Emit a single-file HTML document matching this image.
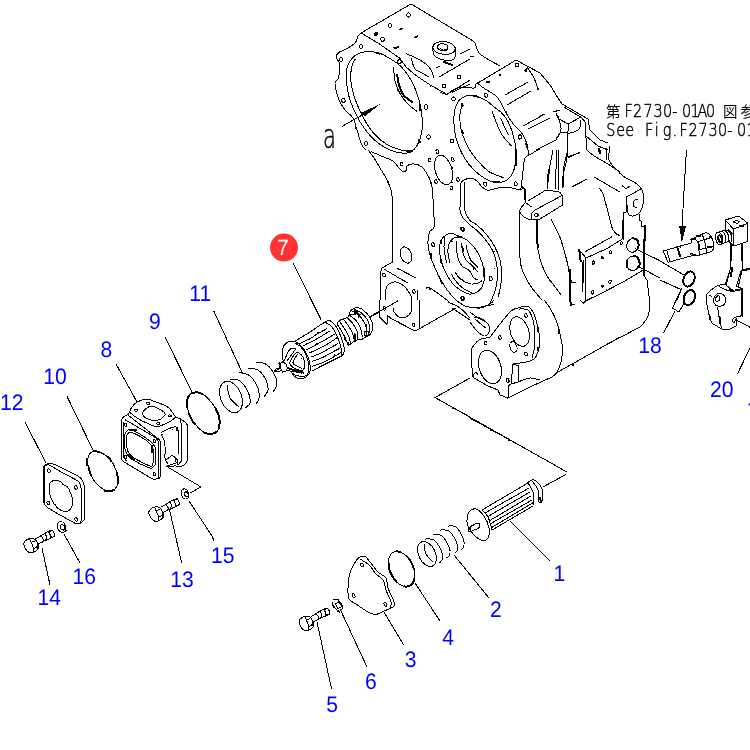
<!DOCTYPE html>
<html><head><meta charset="utf-8"><title>Parts diagram</title>
<style>
html,body{margin:0;padding:0;background:#fff;}
body{width:750px;height:750px;overflow:hidden;position:relative;font-family:"Liberation Sans",sans-serif;}
svg{position:absolute;left:0;top:0;display:block}
.n{font-family:"Liberation Sans",sans-serif;font-size:22px;fill:#0000ff;text-rendering:geometricPrecision;}
.ref{font-family:"Liberation Mono","Noto Sans CJK JP",monospace;font-size:14px;fill:#000;}
.pl{font-family:"DejaVu Sans Light","Liberation Sans",sans-serif;font-weight:200;font-size:18px;fill:#000;stroke:#000;stroke-width:0.5px}
.cj{font-family:"Liberation Sans","Noto Sans CJK JP",sans-serif;font-size:14.5px;fill:#000;font-weight:400}
.k{fill:none;stroke:#000;stroke-width:1;stroke-linejoin:round;stroke-linecap:round}
.k2{fill:none;stroke:#000;stroke-width:2;stroke-linejoin:round;stroke-linecap:round}
.w{fill:#fff;stroke:#000;stroke-width:1;stroke-linejoin:round}
</style></head><body>
<svg width="750" height="750" viewBox="0 0 750 750">
<rect width="750" height="750" fill="#fff"/>
<g id="art" shape-rendering="crispEdges">
<path class="k" d="M470 39 411 4 361 33 358 36"/>
<path class="k" d="M361 33 378 43 400 58.4 406 67 415.6 75.2 430.6 85.2 447 94.4 470 80"/>
<path class="k" d="M452 92.4 470 84"/>
<path class="k" d="M358 36C357.5 37.2 357 40.8 355 43C353 45.2 348.7 47.4 346 49C343.3 50.6 340.7 51.1 339 52.4C337.3 53.7 336 55.4 336 57C336 58.6 338.3 60.2 339 62C339.7 63.8 340.1 65.3 340 68C339.9 70.7 339.2 75.5 338.4 78C337.6 80.5 335.2 80.3 335 83C334.8 85.7 336 90.5 337 94C338 97.5 339.5 101.2 341 104C342.5 106.8 344 108.7 346 111C348 113.3 351.2 114.8 353 118C354.8 121.2 355.8 126.3 357 130C358.2 133.7 359 137.2 360 140C361 142.8 362 145.3 363 147C364 148.7 365.5 149.5 366 150"/>
<path class="k" d="M362.7 45.8C363.1 46.8 362.6 47.9 361.7 48.3C360.7 48.6 359.7 48.1 359.3 47C358.9 46 359.4 44.9 360.3 44.5C361.3 44.2 362.3 44.7 362.7 45.8Z"/>
<path class="k" d="M342.7 58.8C343.1 59.8 342.6 60.9 341.7 61.3C340.7 61.6 339.7 61.1 339.3 60C338.9 59 339.4 57.9 340.3 57.5C341.3 57.2 342.3 57.7 342.7 58.8Z"/>
<path class="k" d="M345.1 99.8C345.5 100.8 345 101.9 344.1 102.3C343.1 102.6 342.1 102.1 341.7 101C341.3 100 341.8 98.9 342.7 98.5C343.7 98.2 344.7 98.7 345.1 99.8Z"/>
<path class="k" d="M367.7 142.8C368.1 143.8 367.6 144.9 366.7 145.3C365.7 145.6 364.7 145.1 364.3 144C363.9 143 364.4 141.9 365.3 141.5C366.3 141.2 367.3 141.7 367.7 142.8Z"/>
<path class="k" d="M401.1 61C401.5 62 401 63.1 400.1 63.5C399.1 63.8 398.1 63.3 397.7 62.2C397.3 61.2 397.8 60.1 398.7 59.7C399.7 59.4 400.7 59.9 401.1 61Z"/>
<path class="k" d="M445.7 85.4C446.1 86.4 445.6 87.5 444.7 87.9C443.7 88.2 442.7 87.7 442.3 86.6C441.9 85.6 442.4 84.5 443.3 84.1C444.3 83.8 445.3 84.3 445.7 85.4Z"/>
<path class="k" d="M455.1 98.4C455.5 99.4 455 100.5 454.1 100.9C453.1 101.2 452.1 100.7 451.7 99.6C451.3 98.6 451.8 97.5 452.7 97.1C453.7 96.8 454.7 97.3 455.1 98.4Z"/>
<path class="k" d="M460.7 76.4C461.1 77.4 460.6 78.5 459.7 78.9C458.7 79.2 457.7 78.7 457.3 77.6C456.9 76.6 457.4 75.5 458.3 75.1C459.3 74.8 460.3 75.3 460.7 76.4Z"/>
<path class="k" d="M453.7 140.4C454.1 141.4 453.6 142.5 452.7 142.9C451.7 143.2 450.7 142.7 450.3 141.6C449.9 140.6 450.4 139.5 451.3 139.1C452.3 138.8 453.3 139.3 453.7 140.4Z"/>
<path class="k" d="M430.3 136.4C430.7 137.4 430.2 138.5 429.3 138.9C428.3 139.2 427.3 138.7 426.9 137.6C426.5 136.6 427 135.5 427.9 135.1C428.9 134.8 429.9 135.3 430.3 136.4Z"/>
<path class="k" d="M410.3 14.4C410.7 15.4 410.2 16.5 409.3 16.9C408.3 17.2 407.3 16.7 406.9 15.6C406.5 14.6 407 13.5 407.9 13.1C408.9 12.8 409.9 13.3 410.3 14.4Z"/>
<path class="k" d="M391.7 24.8C392.1 25.8 391.6 26.9 390.7 27.3C389.7 27.6 388.7 27.1 388.3 26C387.9 25 388.4 23.9 389.3 23.5C390.3 23.2 391.3 23.7 391.7 24.8Z"/>
<path class="k" d="M384.3 38.8C384.7 39.8 384.2 40.9 383.3 41.3C382.3 41.6 381.3 41.1 380.9 40C380.5 39 381 37.9 381.9 37.5C382.9 37.2 383.9 37.7 384.3 38.8Z"/>
<path class="k" d="M427.2 107C427.2 108.4 426.7 109.6 426 109.6C425.3 109.6 424.8 108.4 424.8 107C424.8 105.6 425.3 104.4 426 104.4C426.7 104.4 427.2 105.6 427.2 107Z"/>
<circle cx="376.0" cy="34.0" r="2.0"/>
<path class="k2" d="M400 29.4 402 28.6"/>
<path class="k2" d="M415 37.4 417.4 36.4"/>
<path class="k2" d="M394.4 48 398 47.2"/>
<path class="k" d="M455.2 49C454.8 52.5 449.6 54.9 443.4 54.4C437.3 53.8 432.5 50.5 432.8 47C433.2 43.5 438.4 41.1 444.6 41.6C450.7 42.2 455.5 45.5 455.2 49Z"/>
<path class="k" d="M448 47.7C447.8 49.5 445.4 50.8 442.5 50.6C439.6 50.3 437.5 48.6 437.6 46.7C437.8 44.9 440.2 43.6 443.1 43.8C446 44.1 448.1 45.8 448 47.7Z"/>
<path class="k" d="M433 49C433.1 49.9 432.6 52.8 433.6 54.4C434.6 56 436.6 57.6 439 58.6C441.4 59.6 445.4 60.4 448 60.4C450.6 60.4 453.1 60.3 454.4 58.4C455.7 56.5 455.4 50.6 455.6 49"/>
<path class="k" d="M440 48C440.4 48.3 441.4 49.7 442.4 50C443.4 50.3 445.4 49.7 446 49.6"/>
<path class="k" d="M406 53.6C407.7 54.3 412.7 56.3 416 58C419.3 59.7 423.5 62 426 64C428.5 66 429.7 67.7 431 70C432.3 72.3 433.5 76.7 434 78"/>
<path class="k" d="M411 58C411.7 59.8 413.2 66.5 415 69C416.8 71.5 419.7 71.7 422 73C424.3 74.3 427.8 76.3 429 77"/>
<path class="k" d="M439 77 470 59"/>
<path class="k" d="M460 54 470 49"/>
<path class="k" d="M436 68 440 66"/>
<path class="k2" d="M444 62 452 65"/>
<circle cx="430.6" cy="85.6" r="1.0"/>
<circle cx="397.6" cy="90.4" r="0.8"/>
<path class="k" d="M342 126.4 363 114.6"/>
<path d="M380.0 104.2 361.2 112.6 364.4 116.6Z" fill="#000"/>
<path class="k" d="M470 39C470.8 39.7 473.3 40.5 475 43C476.7 45.5 475.8 50.2 480 54C484.2 57.8 496.7 64 500 66"/>
<path class="k" d="M470 57 474 56"/>
<path class="k" d="M478 83 516 60 527 66 540 73 550 85 558 98 562 104 588 119 590 130 600 140 608 143"/>
<path class="k" d="M564 107 582 118 585 122 586 136 598 146 608 150"/>
<path class="k" d="M505 95 528 82"/>
<path class="k" d="M507 105 531 91"/>
<path class="k" d="M523 126 545 114"/>
<path class="k" d="M528 129 550 118"/>
<path class="k" d="M519 65C519 66 518.1 66.8 517 66.8C515.9 66.8 515 66 515 65C515 64 515.9 63.2 517 63.2C518.1 63.2 519 64 519 65Z"/>
<circle cx="500.0" cy="75.0" r="1.2"/>
<path class="k" d="M489.2 82C489.2 82.6 488.7 83 488 83C487.3 83 486.8 82.6 486.8 82C486.8 81.4 487.3 81 488 81C488.7 81 489.2 81.4 489.2 82Z"/>
<path class="k" d="M521.3 137.5C520.9 138.7 519.9 139.5 519.2 139.3C518.5 139 518.2 137.8 518.7 136.5C519.1 135.3 520.1 134.5 520.8 134.7C521.5 135 521.8 136.2 521.3 137.5Z"/>
<path d="M523.0 71.0 527.0 67.0 526.6 72.0Z" fill="#000"/>
<path class="k" d="M527 67C528.2 68.8 532.2 74.3 534 78C535.8 81.7 537.3 87.2 538 89"/>
<circle cx="538.0" cy="89.0" r="0.8"/>
<path class="k" d="M553 112 560 110"/>
<path class="k" d="M556 114C556.5 115 558.2 117.3 559 120C559.8 122.7 561.5 126.7 561 130C560.5 133.3 556.8 138.3 556 140"/>
<path class="k" d="M559 119 568 124 581 117"/>
<path class="k" d="M561 132C562.5 132.2 567 133.5 570 133C573 132.5 577.2 131.2 579 129C580.8 126.8 580.7 121.5 581 120"/>
<path class="k" d="M556 140 536 150"/>
<path class="k" d="M367.3 51.5C364.2 51.7 360.6 52.6 358 53.9C355.4 55.1 353.3 56.7 351.5 58.9C349.7 61.2 348 63.8 347.2 67.3C346.3 70.9 346.2 75.7 346.4 80.4C346.7 85.1 347.5 90.7 348.7 95.3C349.8 100 351.5 104 353.3 108.4C355.2 112.8 357.2 117.1 359.9 121.5C362.5 125.8 365.8 130.6 369.2 134.5C372.6 138.4 376.4 142 380.4 144.8C384.4 147.6 389.1 149.9 393.5 151.3C397.8 152.7 403.1 153.5 406.5 153.2C410 152.9 411.8 151.6 414 149.5C416.2 147.3 418.2 143.9 419.6 140.1C421 136.4 422.1 131.7 422.4 127.1C422.7 122.4 422.1 116.8 421.5 112.1C420.8 107.5 419.9 103.4 418.7 99.1C417.4 94.7 415.7 89.9 414 86C412.3 82.1 410.6 79 408.4 75.7C406.2 72.5 403.4 68.9 400.9 66.4C398.4 63.9 396.3 62.7 393.5 60.8C390.7 58.9 386.9 56.6 384.1 55.2C381.3 53.8 379.5 53 376.7 52.4C373.9 51.8 370.4 51.2 367.3 51.5Z"/>
<path class="k" d="M355.2 58.9C354.6 60.3 352.2 63.8 351.5 67.3C350.8 70.9 350.6 76 350.9 80.4C351.2 84.8 352.2 89.1 353.3 93.5C354.5 97.8 356 101.9 358 106.5C360 111.2 362.7 116.8 365.5 121.5C368.3 126.1 371.4 130.8 374.8 134.5C378.2 138.3 382 141.4 386 143.9C390 146.4 394.7 148.2 399.1 149.5C403.4 150.7 410 151 412.1 151.3"/>
<path class="k" d="M393.5 67.3C393.8 69.8 394.2 77.9 395.3 82.3C396.4 86.6 397.8 89.7 400 93.5C402.2 97.2 405.6 101.7 408.4 104.7C411.2 107.6 415.4 110.1 416.8 111.2"/>
<path class="k2" d="M397.2 74.8C397.5 76.4 397.6 80.7 398.7 84.1C399.8 87.6 401.5 92.4 403.7 95.3C406 98.3 410.7 100.8 412.1 101.9"/>
<path class="k2" d="M419.6 104.7 420 110.3"/>
<path class="k2" d="M376.7 53 379.5 53.7"/>
<path class="k2" d="M419.2 139.8 420 142.4"/>
<path class="k2" d="M406.5 151.1 412.1 150.8"/>
<circle cx="355.2" cy="59.9" r="0.7"/>
<circle cx="355.2" cy="101.9" r="0.7"/>
<circle cx="365.5" cy="122.4" r="0.7"/>
<circle cx="355.2" cy="128.0" r="0.7"/>
<circle cx="371.4" cy="151.3" r="0.7"/>
<path class="k" d="M470.4 95.2C467.7 95.3 464.7 96.1 462.4 97.6C460.1 99.1 458.2 101.1 456.8 104C455.4 106.9 454.4 110.7 454.1 115.2C453.7 119.7 454 126.1 454.7 131.2C455.4 136.3 456.7 141.1 458.4 145.6C460.1 150.1 462.3 154.4 464.8 158.4C467.3 162.4 470.3 166.3 473.6 169.6C476.9 172.9 481.1 176.3 484.8 178.4C488.5 180.5 492.5 182 496 182.4C499.5 182.8 502.9 182.1 505.6 180.8C508.3 179.5 510.4 177.1 512 174.4C513.6 171.7 514.5 168.5 515.2 164.8C515.9 161.1 516 155.5 516 152C516 148.5 515.9 147.5 515.2 144C514.5 140.5 513.3 135.2 512 131.2C510.7 127.2 509.1 123.2 507.2 120C505.3 116.8 502.9 114.1 500.8 112C498.7 109.9 496.8 109.1 494.4 107.2C492 105.3 489.1 102.5 486.4 100.8C483.7 99.1 481.1 97.7 478.4 96.8C475.7 95.9 473.1 95.1 470.4 95.2Z"/>
<path class="k" d="M462.4 104C462 105.6 460.3 109.6 460 113.6C459.7 117.6 459.9 123.2 460.8 128C461.7 132.8 463.7 138.1 465.6 142.4C467.5 146.7 469.6 150.1 472 153.6C474.4 157.1 477.1 160.1 480 163.2C482.9 166.3 485.7 169.6 489.6 172C493.5 174.4 500.9 176.7 503.2 177.6"/>
<path class="k" d="M492 111.2C493.2 114.3 497.2 125.2 499.2 129.6C501.2 134 502 134.9 504 137.6C506 140.3 510 144.3 511.2 145.6"/>
<path class="k" d="M500.8 118.4C501.7 120.5 505 128.4 506.4 131.2C507.8 134 508.7 134.5 509.1 135.2"/>
<path class="k2" d="M516 149.6 516 164.8"/>
<path class="k2" d="M474.4 96 478.4 96.8"/>
<path class="k2" d="M494.4 182.4 499.2 182.4"/>
<path class="k2" d="M462.4 131.2 462.7 133.6"/>
<path class="k2" d="M462.1 103.7 462.7 105.6"/>
<path class="k" d="M478.4 84C479.5 84.8 481.9 86.8 484.8 88.8C487.7 90.8 493.2 93.5 496 96C498.8 98.5 500 101.3 501.6 104C503.2 106.7 504.1 109.3 505.6 112C507.1 114.7 508.8 117.6 510.4 120C512 122.4 513.3 124.3 515.2 126.4C517.1 128.5 519.7 130.1 521.6 132.8C523.5 135.5 525.3 139.5 526.4 142.4C527.5 145.3 527.6 148.3 528 150.4C528.4 152.5 528.7 154.4 528.8 155.2"/>
<path class="k" d="M528.8 155.2C528.1 155.7 525.7 156 524.8 158.4C523.9 160.8 523.7 165.3 523.2 169.6C522.7 173.9 522 180.8 521.6 184C521.2 187.2 520.9 188 520.8 188.8"/>
<path class="k" d="M528.8 155.2 540 148.8"/>
<path class="k2" d="M526.4 144 527.2 147.2"/>
<path class="k" d="M460.8 200C460.8 197.3 460.3 187.3 460.8 184C461.3 180.7 462.3 180.9 464 180C465.7 179.1 469.1 178.3 471.2 178.4C473.3 178.5 474.9 179.3 476.8 180.8C478.7 182.3 480.5 185.6 482.4 187.2C484.3 188.8 485.5 190.3 488 190.4C490.5 190.5 494.1 188.5 497.6 188C501.1 187.5 505.3 186.9 508.8 187.2C512.3 187.5 515.7 189.5 518.4 189.6C521.1 189.7 523.7 188.3 524.8 188"/>
<path class="k" d="M524.8 188 524.8 200"/>
<path class="k" d="M464.8 182.4 464.8 200"/>
<path class="k" d="M440 92C441.1 92.4 444.5 94.5 446.4 94.4C448.3 94.3 449.3 92.3 451.2 91.2C453.1 90.1 455.2 88.7 457.6 88C460 87.3 462.8 87.2 465.6 87.2C468.4 87.2 472.7 88.5 474.4 88C476.1 87.5 474.8 85.2 476 84C477.2 82.8 480.7 81.3 481.6 80.8"/>
<path class="k" d="M487.3 94.8C487.6 95.9 487.2 97 486.5 97.2C485.7 97.4 484.8 96.7 484.5 95.6C484.2 94.5 484.6 93.4 485.4 93.2C486.1 93 487 93.7 487.3 94.8Z"/>
<path class="k" d="M486.7 183.6C487 184.7 486.6 185.8 485.8 186C485.1 186.2 484.2 185.5 483.9 184.4C483.6 183.3 484 182.2 484.7 182C485.5 181.8 486.4 182.5 486.7 183.6Z"/>
<path class="k" d="M517.1 183.6C517.4 184.7 517 185.8 516.2 186C515.5 186.2 514.6 185.5 514.3 184.4C514 183.3 514.4 182.2 515.1 182C515.9 181.8 516.8 182.5 517.1 183.6Z"/>
<path class="k" d="M521.4 136.4C521.7 137.5 521.3 138.6 520.5 138.8C519.8 139 518.9 138.3 518.6 137.2C518.3 136.1 518.7 135 519.5 134.8C520.2 134.6 521.1 135.3 521.4 136.4Z"/>
<circle cx="495.2" cy="108.0" r="0.8"/>
<circle cx="506.4" cy="112.0" r="0.8"/>
<circle cx="452.0" cy="168.0" r="0.8"/>
<circle cx="452.0" cy="182.4" r="0.8"/>
<circle cx="459.2" cy="86.1" r="0.6"/>
<path class="k" d="M368 150C369 151.3 372 155 374 158C376 161 377.8 164.3 380 168C382.2 171.7 385.2 176.3 387 180C388.8 183.7 390.1 186.7 391 190C391.9 193.3 392.2 198.3 392.4 200"/>
<path class="k" d="M392.4 200 392.4 262 382 268 380 274 380 300"/>
<path class="k" d="M372 152C374.3 153 382.5 156.5 386 158C389.5 159.5 390.8 159.3 393 161C395.2 162.7 397.3 166.2 399 168C400.7 169.8 401.8 171.3 403 171.6C404.2 171.9 405.7 171 406.4 170C407.1 169 406.1 166.6 407.4 165.6C408.7 164.6 411.6 163.8 414 164C416.4 164.2 419.8 165.3 422 167C424.2 168.7 425.5 171.5 427 174C428.5 176.5 430.1 179.3 431 182C431.9 184.7 432 185.3 432.4 190C432.8 194.7 433.3 203.8 433.6 210C433.9 216.2 434.7 223.3 434 227C433.3 230.7 430.6 229.2 429.6 232C428.6 234.8 427.8 239.7 428 244C428.2 248.3 429.7 253.7 431 258C432.3 262.3 434.2 265.7 436 270C437.8 274.3 441 281.7 442 284"/>
<circle cx="403.0" cy="171.6" r="0.8"/>
<circle cx="388.0" cy="182.0" r="0.8"/>
<circle cx="431.0" cy="183.0" r="0.8"/>
<circle cx="430.4" cy="255.0" r="0.8"/>
<path class="k" d="M451.6 167.5C454.1 175.6 452.5 183.2 448 184.5C443.6 185.9 438 180.5 435.6 172.5C433.1 164.4 434.7 156.8 439.2 155.5C443.6 154.1 449.2 159.5 451.6 167.5Z"/>
<path class="k" d="M430.9 159.5C431.3 160.6 431 161.6 430.3 161.9C429.6 162.1 428.7 161.5 428.3 160.5C427.9 159.4 428.2 158.4 428.9 158.1C429.6 157.9 430.5 158.5 430.9 159.5Z"/>
<path class="k" d="M438.7 151.1C439.1 152.2 438.8 153.2 438.1 153.5C437.4 153.7 436.5 153.1 436.1 152.1C435.7 151 436 150 436.7 149.7C437.4 149.5 438.3 150.1 438.7 151.1Z"/>
<path class="k" d="M453.9 159.1C454.3 160.2 454 161.2 453.3 161.5C452.6 161.7 451.7 161.1 451.3 160.1C450.9 159 451.2 158 451.9 157.7C452.6 157.5 453.5 158.1 453.9 159.1Z"/>
<path class="k" d="M459.3 179.1C459.7 180.2 459.4 181.2 458.7 181.5C458 181.7 457.1 181.1 456.7 180.1C456.3 179 456.6 178 457.3 177.7C458 177.5 458.9 178.1 459.3 179.1Z"/>
<path class="k" d="M452.7 187.5C453.1 188.6 452.8 189.6 452.1 189.9C451.4 190.1 450.5 189.5 450.1 188.5C449.7 187.4 450 186.4 450.7 186.1C451.4 185.9 452.3 186.5 452.7 187.5Z"/>
<path class="k" d="M437.3 181.1C437.7 182.2 437.4 183.2 436.7 183.5C436 183.7 435.1 183.1 434.7 182.1C434.3 181 434.6 180 435.3 179.7C436 179.5 436.9 180.1 437.3 181.1Z"/>
<path class="k" d="M402.9 163.5C403.3 164.6 403 165.6 402.3 165.9C401.6 166.1 400.7 165.5 400.3 164.5C399.9 163.4 400.2 162.4 400.9 162.1C401.6 161.9 402.5 162.5 402.9 163.5Z"/>
<path class="k" d="M463.3 228.5C463.7 229.6 463.4 230.6 462.7 230.9C462 231.1 461.1 230.5 460.7 229.5C460.3 228.4 460.6 227.4 461.3 227.1C462 226.9 462.9 227.5 463.3 228.5Z"/>
<path class="k" d="M434.3 243.9C434.7 245 434.4 246 433.7 246.3C433 246.5 432.1 245.9 431.7 244.9C431.3 243.8 431.6 242.8 432.3 242.5C433 242.3 433.9 242.9 434.3 243.9Z"/>
<path class="k" d="M385.3 274.5C385.7 275.6 385.4 276.6 384.7 276.9C384 277.1 383.1 276.5 382.7 275.5C382.3 274.4 382.6 273.4 383.3 273.1C384 272.9 384.9 273.5 385.3 274.5Z"/>
<path class="k" d="M415.3 291.1C415.7 292.2 415.4 293.2 414.7 293.5C414 293.7 413.1 293.1 412.7 292.1C412.3 291 412.6 290 413.3 289.7C414 289.5 414.9 290.1 415.3 291.1Z"/>
<path class="k" d="M464.3 297.5C464.7 298.6 464.4 299.6 463.7 299.9C463 300.1 462.1 299.5 461.7 298.5C461.3 297.4 461.6 296.4 462.3 296.1C463 295.9 463.9 296.5 464.3 297.5Z"/>
<path class="k" d="M411.1 253.2C412.7 257.5 411.7 261.9 408.9 262.9C406.1 263.9 402.5 261.2 400.9 256.8C399.3 252.5 400.3 248.1 403.1 247.1C405.9 246.1 409.5 248.8 411.1 253.2Z"/>
<path class="k" d="M384 269 399 278 408 283"/>
<path class="k" d="M397 268 416 278"/>
<circle cx="398.4" cy="269.2" r="0.8"/>
<path class="k" d="M386 300C385.9 298.3 385.1 292.7 385.6 290C386.1 287.3 387.3 285.3 389 284C390.7 282.7 393.5 281.7 396 282C398.5 282.3 401.7 284 404 286C406.3 288 408.7 291.7 410 294C411.3 296.3 411.7 299 412 300"/>
<path class="k" d="M417 290 417 300"/>
<path class="k" d="M426 289C426.7 288.8 426.2 286 430 288C433.8 290 445.5 299 448.6 301.2"/>
<circle cx="430.0" cy="289.0" r="0.8"/>
<path class="k" d="M528 201 546 190 559.4 192 562.6 195.6 562.6 205 540 219 532 220 531.4 213.6 535 210 562 195.6"/>
<path class="k" d="M525 202 531.6 207"/>
<path class="k" d="M538.2 215C538.2 215.9 537.4 216.6 536.4 216.6C535.4 216.6 534.6 215.9 534.6 215C534.6 214.1 535.4 213.4 536.4 213.4C537.4 213.4 538.2 214.1 538.2 215Z"/>
<path class="k" d="M526 202C525.2 203 522 206.3 521 208C520 209.7 519.5 210.5 520 212C520.5 213.5 522.2 215.7 524 217C525.8 218.3 529.8 219.5 531 220"/>
<path class="k" d="M522.4 187 525 189 525 202"/>
<path class="k" d="M553 150 549 170 547 189"/>
<path class="k" d="M557 150 555 189"/>
<path class="k" d="M558 150 558 190"/>
<path class="k" d="M568 150C567.3 152.7 564.8 159.7 564 166C563.2 172.3 563.2 184.3 563 188"/>
<path class="k" d="M568 158 580 152"/>
<path class="k2" d="M549 170 547.6 182"/>
<path class="k" d="M520 212C520 219.7 519.3 247.7 520 258C520.7 268.3 522 269 524 274C526 279 529 283.7 532 288C535 292.3 540.3 298 542 300"/>
<path class="k2" d="M537 220 537.6 248"/>
<path class="k" d="M537.6 248C538.2 250.3 539.4 257.3 541 262C542.6 266.7 544.5 271.7 547 276C549.5 280.3 553.7 284.8 556 288C558.3 291.2 560.2 293.8 561 295"/>
<path class="k" d="M551 219C552.3 221.7 556.8 229.8 559 235C561.2 240.2 562.5 244.8 564 250C565.5 255.2 567 261 568 266C569 271 569.7 277.7 570 280"/>
<path class="k2" d="M570 270 570 300"/>
<path class="k" d="M570 283 575 282"/>
<path class="k" d="M594 177 620 192"/>
<path class="k" d="M573 186.6 587 179"/>
<path class="k" d="M599 188C599.7 189 601.5 190 603 194C604.5 198 606.3 206 608 212C609.7 218 611 226 613 230C615 234 618.8 235 620 236"/>
<path class="k" d="M587 150C588.2 151 590.5 153.7 594 156C597.5 158.3 603.7 161.3 608 164C612.3 166.7 618 170.7 620 172"/>
<path class="k" d="M601 152C601 153 600.6 153.8 600 153.8C599.4 153.8 599 153 599 152C599 151 599.4 150.2 600 150.2C600.6 150.2 601 151 601 152Z"/>
<circle cx="602.4" cy="160.4" r="0.8"/>
<path class="k" d="M584.7 252 611.3 237.1"/>
<path class="k" d="M580 250.7 586 258 606.7 248.7 622 239.3"/>
<path class="k2" d="M579.3 250 580.7 261.3"/>
<path class="k" d="M582 261.3 582.7 290.7"/>
<path class="k" d="M586 258 585.3 301.3"/>
<path class="k" d="M583.3 260 582.9 292"/>
<path class="k" d="M580 300 583.3 303.3 586 300.7 604 292 625.3 280.7 643.3 270"/>
<circle cx="611.3" cy="237.1" r="0.7"/>
<circle cx="586.0" cy="300.9" r="0.7"/>
<circle cx="606.7" cy="289.3" r="0.5"/>
<circle cx="625.3" cy="280.7" r="0.5"/>
<path class="k" d="M594.3 263C594 263.9 593.3 264.5 592.7 264.3C592.2 264.1 592 263.2 592.3 262.3C592.7 261.4 593.4 260.8 593.9 261C594.5 261.2 594.7 262.1 594.3 263Z"/>
<path class="k" d="M611.4 252.8C611.1 253.7 610.4 254.2 609.8 254C609.3 253.8 609.1 252.9 609.4 252C609.7 251.1 610.4 250.6 611 250.8C611.5 251 611.7 251.9 611.4 252.8Z"/>
<path class="k" d="M622.3 243.7C622 244.6 621.3 245.2 620.7 245C620.2 244.8 620 243.9 620.3 243C620.7 242.1 621.4 241.5 621.9 241.7C622.5 241.9 622.7 242.8 622.3 243.7Z"/>
<path class="k" d="M593.7 292.8C593.3 293.7 592.6 294.2 592.1 294C591.5 293.8 591.3 292.9 591.7 292C592 291.1 592.7 290.6 593.3 290.8C593.8 291 594 291.9 593.7 292.8Z"/>
<path class="k" d="M611 282.1C610.7 283 610 283.6 609.4 283.4C608.9 283.2 608.7 282.3 609 281.4C609.3 280.5 610 279.9 610.6 280.1C611.1 280.3 611.3 281.2 611 282.1Z"/>
<circle cx="602.4" cy="257.7" r="1.5"/>
<circle cx="602.4" cy="286.3" r="1.5"/>
<path class="k2" d="M644.3 240 644.5 276"/>
<path class="k" d="M644.5 276 646.7 280"/>
<path class="k" d="M638.3 246.9C637.3 250.6 634 252.9 630.9 252C627.7 251.2 626 247.5 627 243.8C628 240.1 631.3 237.8 634.5 238.6C637.6 239.5 639.3 243.2 638.3 246.9Z"/>
<path class="k" d="M639.1 265C638.1 268.8 634.5 271.2 631.1 270.3C627.7 269.4 625.7 265.5 626.8 261.7C627.8 257.8 631.4 255.5 634.8 256.4C638.2 257.3 640.1 261.1 639.1 265Z"/>
<path class="k2" d="M632.7 238.3C633.3 238.4 635.7 238.3 636.7 239.3C637.7 240.4 638.5 243.1 638.7 244.7C638.8 246.2 637.8 248 637.6 248.7"/>
<path class="k2" d="M633.3 256.1C634 256.3 636.3 256.1 637.3 257.3C638.4 258.5 639.5 261.8 639.7 263.3C640 264.9 638.8 266.1 638.7 266.7"/>
<path class="k2" d="M626.7 260.7 626.9 266.7"/>
<path class="k" d="M635.3 248.7 660 260.7"/>
<path class="k" d="M637.3 266 660 278"/>
<path class="k2" d="M570 276 570.7 281.3"/>
<path class="k" d="M570 282.7 576 282"/>
<path class="k" d="M570 282.7 570 294.7"/>
<path class="k2" d="M570 294.7 570.7 304"/>
<path class="k" d="M570.7 305.3 575.3 304"/>
<path class="k" d="M610 220C610.4 221.6 611.3 226.8 612.7 229.3C614 231.9 617.1 234.3 618 235.3"/>
<path class="k" d="M622 220 622 239.3"/>
<path class="k" d="M438.7 276C440 278.2 443.8 285.3 446.7 289.3C449.6 293.3 452.9 297.2 456 300C459.1 302.8 462 304.7 465.3 306C468.7 307.3 472.7 308 476 308C479.3 308 482.4 306.6 485.3 306C488.2 305.4 492 304.9 493.3 304.7"/>
<path class="k" d="M471.3 226C472.6 227 476.1 229.4 478.7 232C481.2 234.6 484.2 238 486.7 241.3C489.1 244.7 491.7 248.2 493.3 252C495 255.8 496 259.6 496.7 264C497.3 268.4 497.7 274 497.3 278.7C497 283.3 496 287.7 494.7 292C493.3 296.3 490.2 302.6 489.3 304.7"/>
<path class="k" d="M470 220.7C471.2 221.4 474.6 223 477.3 225.3C480.1 227.7 483.8 231.1 486.7 234.7C489.6 238.2 492.4 242.4 494.7 246.7C496.9 250.9 498.8 255.1 500 260C501.2 264.9 501.6 271.1 501.6 276C501.6 280.9 500.6 285.8 500 289.3C499.4 292.9 498.3 296 498 297.3"/>
<path class="k" d="M484 281.3C483.6 282.4 482.7 286.1 481.3 288C480 289.9 478 291.7 476 292.7C474 293.7 472 294.4 469.3 294C466.7 293.6 462.9 291.9 460 290C457.1 288.1 454.4 285.7 452 282.7C449.6 279.7 447.1 275.6 445.3 272C443.6 268.4 442.3 264.9 441.3 261.3C440.4 257.8 439.8 254 439.7 250.7C439.6 247.3 439.8 243.8 440.7 241.3C441.5 238.9 443 237.3 444.7 236C446.3 234.7 448.3 233.3 450.7 233.3C453 233.3 456 234.9 458.7 236C461.3 237.1 464 238 466.7 240C469.3 242 472.4 245.1 474.7 248C476.9 250.9 478.6 254.2 480 257.3C481.4 260.4 482.6 263.6 483.3 266.7C484.1 269.8 484.6 273.6 484.7 276C484.8 278.4 484.1 280.4 484 281.3"/>
<path class="k" d="M444.7 236C444.6 237.8 443.9 243.1 444 246.7C444.1 250.2 444.9 254.7 445.3 257.3C445.8 260 446.4 261.8 446.7 262.7"/>
<path class="k" d="M458.7 236.7C457.7 237 454.3 237.3 452.7 238.7C451 240 449.4 242.2 448.7 244.7C447.9 247.1 447.8 250.3 448 253.3C448.2 256.3 449.7 261.1 450 262.7"/>
<path class="k" d="M456.7 241.3C456.7 242.9 456.3 247.6 456.7 250.7C457 253.8 457.7 257.3 458.7 260C459.7 262.7 460.9 264.9 462.7 266.7C464.4 268.4 467.6 268.9 469.3 270.7C471.1 272.4 472 275.8 473.3 277.3C474.7 278.9 476.7 279.6 477.3 280"/>
<path class="k" d="M461.3 243.3C461.6 244.8 461.9 249.2 462.7 252C463.4 254.8 464.4 257.8 466 260C467.6 262.2 470.1 263.4 472 265.3C473.9 267.2 476.4 270.3 477.3 271.3"/>
<path class="k" d="M466 245.3C466.3 246.7 467.2 250.9 468 253.3C468.8 255.8 469.6 258.2 470.7 260C471.8 261.8 473.4 262.8 474.7 264C475.9 265.2 477.4 266.8 478 267.3"/>
<path class="k" d="M455.3 272.7C456.1 273.7 458.3 277.1 460 278.7C461.7 280.2 463.4 281.1 465.3 282C467.2 282.9 469.3 283.8 471.3 284C473.3 284.2 475.6 283.9 477.3 283.3C479.1 282.8 481.2 281.1 482 280.7"/>
<path class="k" d="M451.3 274C452.1 275.2 454.1 279 456 281.3C457.9 283.7 460.1 286.1 462.7 288C465.2 289.9 469.9 291.9 471.3 292.7"/>
<path class="k" d="M464.2 228.9C464.5 230.1 464.1 231.2 463.2 231.4C462.4 231.6 461.4 230.9 461.1 229.7C460.8 228.6 461.3 227.5 462.1 227.3C463 227 463.9 227.8 464.2 228.9Z"/>
<path class="k" d="M434.9 244.3C435.2 245.4 434.7 246.5 433.9 246.7C433 247 432.1 246.2 431.8 245.1C431.5 243.9 431.9 242.8 432.8 242.6C433.6 242.4 434.6 243.1 434.9 244.3Z"/>
<path class="k" d="M492.2 278.3C492.5 279.4 492.1 280.5 491.2 280.7C490.4 281 489.4 280.2 489.1 279.1C488.8 277.9 489.3 276.8 490.1 276.6C491 276.4 491.9 277.1 492.2 278.3Z"/>
<path class="k" d="M463.9 298C464.3 299.1 463.8 300.2 463 300.5C462.1 300.7 461.2 300 460.9 298.8C460.5 297.7 461 296.6 461.8 296.3C462.7 296.1 463.6 296.8 463.9 298Z"/>
<path class="k2" d="M458 236.7 461.3 237.3"/>
<path class="k2" d="M484 268.7 484.3 276"/>
<path class="k2" d="M440.7 241.3 441.1 243.3"/>
<path class="k2" d="M440.7 259.3 441.1 262"/>
<path class="k2" d="M430.7 254 430.9 258"/>
<path class="k2" d="M462.4 246.7 462.9 251.3"/>
<circle cx="494.7" cy="251.3" r="0.8"/>
<circle cx="494.7" cy="268.7" r="0.8"/>
<circle cx="494.7" cy="292.7" r="0.8"/>
<circle cx="462.7" cy="279.7" r="0.8"/>
<circle cx="477.1" cy="279.7" r="0.8"/>
<circle cx="473.3" cy="269.1" r="0.7"/>
<circle cx="483.7" cy="281.6" r="0.7"/>
<circle cx="452.0" cy="241.1" r="0.7"/>
<path class="k" d="M379.6 300 379.6 317 387 324.4 387 315 392 319"/>
<path class="k" d="M390 318 415 331 419 329 419 300"/>
<path class="k" d="M419 329 456 308"/>
<path class="k" d="M412 300C411.8 302 412 309.2 411 312C410 314.8 408 316.2 406 317C404 317.8 401 317.8 399 317C397 316.2 395 313.5 394 312C393 310.5 393.2 308.7 393 308"/>
<path class="k" d="M414.8 325C414.8 325.8 414.3 326.4 413.6 326.4C412.9 326.4 412.4 325.8 412.4 325C412.4 324.2 412.9 323.6 413.6 323.6C414.3 323.6 414.8 324.2 414.8 325Z"/>
<path class="k" d="M385.6 308.4C385.6 309.4 385.1 310.2 384.4 310.2C383.7 310.2 383.2 309.4 383.2 308.4C383.2 307.4 383.7 306.6 384.4 306.6C385.1 306.6 385.6 307.4 385.6 308.4Z"/>
<circle cx="397.6" cy="301.0" r="1.0"/>
<circle cx="398.4" cy="321.6" r="0.8"/>
<path class="k" d="M371 316 398 301"/>
<path class="k" d="M448 302C450 303 456.3 305.3 460 308C463.7 310.7 468.3 316.3 470 318"/>
<path class="k" d="M452 308 470 320"/>
<circle cx="449.6" cy="311.6" r="0.8"/>
<path class="k" d="M470 378 435 397.6 470 417"/>
<circle cx="455.6" cy="386.4" r="0.8"/>
<circle cx="453.0" cy="408.0" r="0.8"/>
<path class="k" d="M283.7 361.9C283.4 361.2 282.4 359.8 282.3 357.7C282.1 355.5 282 351.5 282.6 349.1C283.2 346.7 284.5 344.6 286 343.3C287.5 341.9 289.8 341.4 291.3 341.1C292.8 340.9 293.6 341 295.1 341.7C296.5 342.3 298.2 343.3 299.9 344.9C301.6 346.5 303.7 348.8 305.2 351.3C306.7 353.8 308.1 357 308.9 359.8C309.8 362.6 310.3 365.9 310.3 368.3C310.3 370.7 310 372.6 308.9 374.2C307.9 375.8 306 377.2 304.1 377.9C302.3 378.6 299.6 379 297.7 378.5C295.9 377.9 293.7 375.4 292.9 374.7"/>
<path class="k" d="M295.1 343.3C296 343.9 299.1 345 300.9 347C302.8 349 305 352.7 306.3 355.5C307.5 358.4 308.3 361.4 308.6 364.1C309 366.7 308.8 369.5 308.4 371.5C308 373.6 306.6 375.5 306.3 376.3"/>
<path class="k" d="M296.1 349.1C295.5 349 293.6 347.9 292.4 348.1C291.2 348.2 290.3 348.8 289.2 350.2C288.1 351.6 286.8 354.8 286 356.6C285.2 358.4 284.7 360.2 284.4 360.9"/>
<path class="k" d="M289.2 370.5C290.1 371.2 292.6 373.8 294.5 374.7C296.5 375.7 299 376.2 300.9 376.3C302.9 376.5 305.4 375.9 306.3 375.8"/>
<path class="k" d="M296.7 352.3C295.3 352.7 294.1 354.8 292.9 356.6C291.8 358.4 289.7 361.2 289.7 363C289.7 364.8 290.9 366 292.9 367.3C295 368.5 300 370.6 302 370.5C304 370.3 304.3 368 304.7 366.2C305 364.4 304.8 361.8 304.1 359.8C303.5 357.8 302.2 355.7 300.9 354.5C299.7 353.2 298 352 296.7 352.3Z"/>
<path class="k" d="M297.7 354.3C297.2 355 295.5 357.1 294.7 358.7C294 360.3 292 362.3 293.3 363.9C294.5 365.5 300.5 367.6 302 368.3"/>
<path class="k" d="M295.6 349.1 287.1 360.9"/>
<path class="k" d="M287.1 370.5 302 373.1"/>
<path class="k2" d="M288.1 368.3 303.1 372.6"/>
<path class="k" d="M279.1 363.5 280.7 363 282.8 361.9 286 364.1 287.6 368.3 286 371 282.8 372.1 280.7 368.3Z"/>
<path class="k2" d="M279.4 363.5 280.1 367.3"/>
<path class="k" d="M280.7 368.3 276.4 368.3 274.3 370.5 278 372.1 280.7 370.5"/>
<path class="k" d="M295.1 341.1 308.4 333.1 320.1 325.1 326 321.4"/>
<path class="k" d="M312.7 370.5 324.4 364.6 342.5 355.5"/>
<path class="k" d="M298.8 343.8C300.6 343 306.4 340.6 309.5 339C312.5 337.4 314.1 335.9 316.9 334.2C319.8 332.5 324.9 329.8 326.5 328.9"/>
<path class="k" d="M303.1 345.9C304.8 345 310.7 342.2 313.7 340.6C316.8 339 318.5 337.9 321.2 336.3C323.9 334.7 328.3 331.9 329.7 331"/>
<path class="k" d="M306.8 349.7C308.5 348.8 313.6 346.1 316.9 344.3C320.2 342.6 323.6 340.7 326.5 339C329.5 337.3 333.2 335 334.5 334.2"/>
<path class="k" d="M309.5 352.9C311.2 352.1 316.8 349.8 320.1 348.1C323.5 346.4 327 344.4 329.7 342.7C332.5 341 335.5 338.7 336.7 337.9"/>
<path class="k" d="M311.1 357.1C312.8 356.4 317.9 354.5 321.2 352.9C324.5 351.3 328 349 330.8 347.5C333.6 346 336.6 344.4 337.7 343.8"/>
<path class="k" d="M312.1 361.4C314 360.7 319.7 358.8 323.3 357.1C327 355.4 331.3 352.7 334 351.3C336.7 349.8 338.4 349 339.3 348.6"/>
<path class="k" d="M312.7 366.2C314.6 365.5 320.7 363.6 324.4 361.9C328.1 360.2 332.4 357.6 335.1 356.1C337.7 354.6 339.5 353.4 340.4 352.9"/>
<circle cx="308.9" cy="333.1" r="0.6"/>
<circle cx="318.0" cy="332.6" r="0.6"/>
<circle cx="306.8" cy="343.8" r="0.6"/>
<circle cx="316.9" cy="343.8" r="0.6"/>
<circle cx="337.2" cy="343.8" r="0.6"/>
<circle cx="316.9" cy="355.0" r="0.6"/>
<circle cx="326.0" cy="355.0" r="0.6"/>
<circle cx="334.5" cy="355.0" r="0.6"/>
<circle cx="316.9" cy="364.6" r="0.6"/>
<circle cx="302.0" cy="358.2" r="0.6"/>
<circle cx="295.1" cy="343.8" r="0.6"/>
<circle cx="306.8" cy="376.0" r="0.6"/>
<path class="k" d="M326 321.4C326.4 321.2 327.7 320.2 328.7 320.3C329.6 320.4 330.6 320.9 331.9 321.9C333.1 323 334.7 324.5 336.1 326.7C337.6 329 339.2 332.2 340.4 335.3C341.6 338.3 343 342.2 343.6 344.9C344.2 347.5 344.3 349.5 344.1 351.3C344 353 342.8 354.8 342.5 355.5"/>
<path class="k" d="M325.5 322.5C326.4 323 329.2 324.1 330.8 325.7C332.4 327.3 333.6 329.4 335.1 332.1C336.5 334.7 338.2 338.5 339.3 341.7C340.4 344.9 341.3 349 341.7 351.3C342 353.5 341.5 354.4 341.5 355"/>
<path class="k" d="M337 323.8C337.4 323.3 338.2 321.5 339.4 320.6C340.6 319.7 342.7 319.3 344.2 318.6C345.7 317.9 347.1 317.9 348.2 316.6C349.3 315.3 349.5 312.4 350.6 311C351.7 309.6 353 308.7 354.6 308.2C356.2 307.7 358.6 307.7 360.2 308.2C361.8 308.7 362.8 309.8 364.2 311C365.6 312.2 367.3 313.7 368.6 315.4C369.9 317.1 371.1 319.5 371.8 321.4C372.5 323.3 372.8 325.3 372.8 327C372.8 328.7 372.4 330.4 371.8 331.8C371.2 333.2 370.1 334.5 369 335.4C367.9 336.3 366.1 336.8 365 337.4C363.9 338 363.8 338.6 362.6 339C361.4 339.4 359.4 339.3 357.8 339.8C356.2 340.3 354.6 341.2 353 342.2C351.4 343.2 349 345.2 348.2 345.8"/>
<path class="k" d="M337 323.8C337.7 324.9 339.6 327.8 341 330.2C342.4 332.6 344.2 335.6 345.4 338.2C346.6 340.8 347.7 344.5 348.2 345.8"/>
<path class="k" d="M339.4 321C340.1 322 341.9 324.7 343.4 327C344.9 329.3 347 332.3 348.2 335C349.4 337.7 350.2 341.7 350.6 343"/>
<path class="k" d="M343.4 319C344.2 320.1 346.7 323.1 348.2 325.4C349.7 327.7 351.1 329.9 352.2 332.6C353.3 335.3 354.2 339.9 354.6 341.4"/>
<path class="k" d="M347.4 317.8C348.3 318.8 351.4 321.6 353 323.8C354.6 326 356.2 328.4 357 331C357.8 333.6 357.7 338 357.8 339.4"/>
<path class="k" d="M349 315C350.1 315.8 353.5 317.8 355.4 319.8C357.3 321.8 359.1 324.2 360.2 327C361.3 329.8 361.9 335 362.2 336.6"/>
<path class="k" d="M352.2 311C353.3 311.7 356.6 313.1 358.6 315C360.6 316.9 362.9 319.7 364.2 322.2C365.5 324.7 366.3 327.8 366.6 330.2C366.9 332.6 365.9 335.5 365.8 336.6"/>
<path class="k" d="M354.6 309.4C355.7 309.9 358.9 310.9 361 312.6C363.1 314.3 365.9 317.1 367.4 319.8C368.9 322.5 369.6 326.1 369.8 328.6C370 331.1 368.8 333.9 368.6 335"/>
<path class="k2" d="M354.6 310.6 357 310.6 357 313.4 354.6 313.4Z"/>
<path class="k" d="M364.2 331.8 368.2 331.8 368.2 335.8 364.2 335.8Z"/>
<path class="k2" d="M354.6 334.2 355.4 340.6"/>
<path class="k2" d="M344.6 337.4 345.4 339.8"/>
<path class="k2" d="M347.8 342.6 348.6 345"/>
<path class="k2" d="M365.8 324.6 366.2 326.6"/>
<path class="k" d="M357 313.4 360.2 314.2 358.6 317.4"/>
<path class="k" d="M349 315 357 313.8"/>
<circle cx="339.0" cy="322.0" r="0.6"/>
<circle cx="345.4" cy="321.8" r="0.6"/>
<circle cx="357.8" cy="312.0" r="0.6"/>
<circle cx="366.2" cy="319.0" r="0.6"/>
<path class="k" d="M369.8 317 379.4 312.2"/>
<path class="k" d="M471 349 472.4 375.6"/>
<path class="k" d="M471 349C472.3 347.5 475.8 342 479 340C482.2 338 487.7 338.2 490 337C492.3 335.8 489.7 337.2 493 333C496.3 328.8 505.8 316.2 510 312C514.2 307.8 515 308.9 518 308C521 307.1 525.3 305.4 528 306.4C530.7 307.4 532.3 310.4 534 314C535.7 317.6 537 323.7 538 328C539 332.3 540 336 540 340C540 344 539 348.8 538 352C537 355.2 536 357.3 534 359C532 360.7 529.5 361.2 526 362C522.5 362.8 515.2 363.7 513 364"/>
<path class="k" d="M513 364 511 384 508 386 508 398 500 395 498 390 488 386 474 378 472.4 375.6"/>
<path class="k" d="M519 309C520.5 309.2 525.7 308.2 528 310C530.3 311.8 531.8 315.7 533 320C534.2 324.3 534.8 331.3 535 336C535.2 340.7 534.9 344.3 534.4 348C533.9 351.7 532.4 356.3 532 358"/>
<path class="k" d="M528.3 328.8C530.9 336.7 529.1 344.5 524.3 346.1C519.5 347.6 513.4 342.4 510.9 334.4C508.3 326.5 510.1 318.7 514.9 317.1C519.7 315.6 525.8 320.8 528.3 328.8Z"/>
<path class="k" d="M516.6 345.8C517.6 348.6 517 351.4 515.2 352.1C513.5 352.7 511.2 351 510.2 348.2C509.2 345.4 509.8 342.6 511.6 341.9C513.3 341.3 515.6 343 516.6 345.8Z"/>
<path class="k" d="M500.3 363.7C503.2 372.7 501 381.5 495.3 383.4C489.6 385.2 482.7 379.4 479.7 370.3C476.8 361.3 479 352.5 484.7 350.6C490.4 348.8 497.3 354.6 500.3 363.7Z"/>
<path class="k" d="M501.3 337.1C501.7 338.2 501.4 339.2 500.7 339.5C500 339.7 499.1 339.1 498.7 338.1C498.3 337 498.6 336 499.3 335.7C500 335.5 500.9 336.1 501.3 337.1Z"/>
<path class="k" d="M486.9 342.5C487.3 343.6 487 344.6 486.3 344.9C485.6 345.1 484.7 344.5 484.3 343.5C483.9 342.4 484.2 341.4 484.9 341.1C485.6 340.9 486.5 341.5 486.9 342.5Z"/>
<path class="k" d="M527.3 315.1C527.7 316.2 527.4 317.2 526.7 317.5C526 317.7 525.1 317.1 524.7 316.1C524.3 315 524.6 314 525.3 313.7C526 313.5 526.9 314.1 527.3 315.1Z"/>
<path class="k" d="M527.3 353.5C527.7 354.6 527.4 355.6 526.7 355.9C526 356.1 525.1 355.5 524.7 354.5C524.3 353.4 524.6 352.4 525.3 352.1C526 351.9 526.9 352.5 527.3 353.5Z"/>
<path class="k" d="M508.9 379.9C509.3 381 509 382 508.3 382.3C507.6 382.5 506.7 381.9 506.3 380.9C505.9 379.8 506.2 378.8 506.9 378.5C507.6 378.3 508.5 378.9 508.9 379.9Z"/>
<path class="k" d="M513 364 519 366 518 382 511 384"/>
<path class="k" d="M518 382C520 381.3 526.3 378.3 530 378C533.7 377.7 538.3 379.7 540 380"/>
<path class="k" d="M508 398 530 387 552 377 558 372 620 337"/>
<path class="k" d="M544 300C545 301.3 548 304.7 550 308C552 311.3 554.3 315.7 556 320C557.7 324.3 558.9 329.3 560 334C561.1 338.7 562.2 343.3 562.4 348C562.6 352.7 561.9 358 561 362C560.1 366 558.5 369.5 557 372C555.5 374.5 552.8 376.2 552 377"/>
<path class="k2" d="M538 328 538.4 332"/>
<path class="k2" d="M538 348 538.4 351"/>
<path class="k2" d="M559 330 559.2 333"/>
<circle cx="507.6" cy="398.0" r="1.0"/>
<path class="k" d="M470 307C471.7 307.2 476.7 308.5 480 308C483.3 307.5 487.7 305.3 490 304C492.3 302.7 493.3 300.7 494 300"/>
<path class="k" d="M470 312C471.3 313 475.3 316.3 478 318C480.7 319.7 484.7 321.3 486 322"/>
<path class="k" d="M470 322C471 323.3 473.7 327.7 476 330C478.3 332.3 481.8 335.7 484 336C486.2 336.3 488.3 334 489 332C489.7 330 489.5 326.3 488 324C486.5 321.7 482.3 319.2 480 318C477.7 316.8 475 317.2 474 317"/>
<path class="k" d="M475 319C476.2 320 480.2 323.5 482 325C483.8 326.5 485.3 327.5 486 328"/>
<path class="k" d="M472.4 375.6 476 372 478 375"/>
<circle cx="472.6" cy="375.6" r="1.0"/>
<path class="k" d="M470 418 528 450"/>
<circle cx="472.0" cy="419.0" r="0.8"/>
<circle cx="491.0" cy="430.0" r="0.8"/>
<circle cx="509.0" cy="440.0" r="0.8"/>
<circle cx="573.0" cy="365.0" r="0.8"/>
<circle cx="589.0" cy="354.4" r="0.8"/>
<circle cx="610.0" cy="342.6" r="0.8"/>
<path class="k" d="M610 146C609.8 148.3 608 156.2 609 160C610 163.8 613.7 166.3 616 169C618.3 171.7 620.7 174.2 623 176C625.3 177.8 627.7 178.7 630 180C632.3 181.3 635 182.3 637 184C639 185.7 640.9 187.7 642 190C643.1 192.3 643.6 195 643.6 198C643.6 201 642.9 205.3 642 208C641.1 210.7 639.7 212.7 638 214C636.3 215.3 633.7 216.2 632 216C630.3 215.8 628.9 216.2 628 213C627.1 209.8 626.7 199.7 626.4 197"/>
<path class="k" d="M585.6 133 587 150"/>
<path class="k" d="M606 148 607 160"/>
<path class="k" d="M599.8 150C599.8 150.9 599.4 151.6 599 151.6C598.6 151.6 598.2 150.9 598.2 150C598.2 149.1 598.6 148.4 599 148.4C599.4 148.4 599.8 149.1 599.8 150Z"/>
<path class="k" d="M626.4 197 641 189"/>
<path class="k" d="M626.4 197 626.4 212 623 213 623 240"/>
<path class="k" d="M639 214 639 220 641 221 641 226 645 226"/>
<path class="k2" d="M645 226 645 240"/>
<path class="k" d="M622 185.6C622.7 186.1 624.7 188.3 626 188.4C627.3 188.5 629.3 186.4 630 186"/>
<path class="k" d="M638 199C637.3 199.3 634.7 199.8 634 201C633.3 202.2 633.1 204.9 633.6 206C634.1 207.1 636.4 207.3 637 207.6"/>
<path class="k" d="M553 112 559 110"/>
<path class="k" d="M556 113C556.5 114 558.2 116.2 559 119C559.8 121.8 561.5 126.7 561 130C560.5 133.3 556.8 137.5 556 139"/>
<path class="k" d="M559 119 568 124 581 117"/>
<path class="k" d="M568 124C568 125.3 568.2 126.5 568 132C567.8 137.5 567.8 149.7 567 157C566.2 164.3 563.8 170.8 563 176C562.2 181.2 562.2 186 562 188"/>
<path class="k" d="M540 116 545 114"/>
<path class="k" d="M540 123 550 118"/>
<path class="k" d="M567 157 579 153"/>
<path class="k" d="M573 186 587 179"/>
<path class="k" d="M660 261 684 275"/>
<path class="k" d="M682 288 677 300"/>
<path class="k2" d="M694.1 280.8C692.6 284.9 689.1 287.3 686.3 286.3C683.5 285.3 682.5 281.2 683.9 277.2C685.4 273.1 688.9 270.7 691.7 271.7C694.5 272.7 695.5 276.8 694.1 280.8Z"/>
<path class="k" d="M686.4 150 682 226"/>
<path d="M679.2 225.6 686.0 225.6 681.8 243.0Z" fill="#000"/>
<path class="k" d="M663.3 251 691.3 243"/>
<path class="k" d="M668 262.3 696 254.6"/>
<path class="k" d="M663.3 251 668 262.3"/>
<path class="k" d="M666.7 250.3 670 261.5"/>
<path class="k2" d="M677.3 247 680 256.3"/>
<path class="k" d="M680.4 245 680.9 247.4"/>
<path class="k" d="M691.3 243 691.6 239.9"/>
<path class="k" d="M690 240C690.5 239.7 691.9 239.1 693.2 238.4C694.5 237.7 696.1 236.7 697.6 236C699.1 235.3 700.6 234.5 702 234C703.4 233.5 704.9 232.8 706 232.8C707.1 232.8 707.9 233.3 708.8 234C709.7 234.7 710.5 235.5 711.2 236.8C711.9 238.1 712.8 239.7 713.2 241.6C713.6 243.5 713.9 246.4 713.6 248C713.3 249.6 712.9 250.3 711.6 251.2C710.3 252.1 708.1 252.5 706 253.2C703.9 253.9 700.7 254.9 698.8 255.2C696.9 255.5 696 255.5 694.8 255.2C693.6 254.9 692.4 253.7 691.6 253.6C690.8 253.5 690.3 254.3 690 254.4"/>
<path class="k" d="M694.8 239.2C695.3 239.7 697.3 240.7 698 242.4C698.7 244.1 698.5 247.5 698.8 249.6C699.1 251.7 699.5 254.3 699.6 255.2"/>
<path class="k" d="M698 241.6 711.2 237.6"/>
<path class="k" d="M704.4 240C704.7 241.3 705.7 245.9 706 248C706.3 250.1 706.3 251.7 706.4 252.4"/>
<path class="k" d="M698.8 249.6 713.2 246.8"/>
<path class="k" d="M702 234 704.4 240"/>
<path class="k2" d="M691.6 238.8 694.8 239.2"/>
<path class="k2" d="M698.8 244.8 699.2 249.6"/>
<path class="k2" d="M708 246.8 711.6 246.8"/>
<path class="k2" d="M696.8 236.4 700.4 236"/>
<path class="k2" d="M709.6 236.8 711.2 237.2"/>
<path class="k" d="M725.2 220 738.8 216 747.6 223.2 733.6 229.2Z"/>
<path class="k" d="M725.2 220 725.2 230"/>
<path class="k" d="M733.6 229.2 733.6 246"/>
<path class="k" d="M747.6 223.2 747.6 241.6 733.6 246 728.4 240.8"/>
<path class="k" d="M733.6 222 736.4 220.4 739.6 221.6 737.2 223.6Z"/>
<path class="k2" d="M740 225.8 743.6 226"/>
<path class="k2" d="M728.4 230.4 731.6 233.6"/>
<path class="k2" d="M730.8 244.8 730.8 260"/>
<path class="k2" d="M742 244 742 260"/>
<path class="k" d="M722.7 237.8C723.4 241.3 722.3 244.4 720.3 244.7C718.4 245 716.3 242.5 715.7 239C715 235.5 716.1 232.4 718.1 232.1C720 231.8 722.1 234.3 722.7 237.8Z"/>
<path class="k2" d="M721.6 238.5C721.9 240.5 721.5 242.2 720.6 242.3C719.8 242.5 718.8 241 718.4 239.1C718.1 237.1 718.5 235.4 719.4 235.3C720.2 235.1 721.2 236.6 721.6 238.5Z"/>
<path class="k" d="M722.8 231.6C723.2 232.2 724.7 233.5 725.2 235.2C725.7 236.9 725.9 240.5 726 241.6"/>
<path class="k" d="M725.2 230.4C725.7 231.1 727.3 232.5 728 234.4C728.7 236.3 729 240.4 729.2 241.6"/>
<path class="k" d="M727.6 230.4C728.1 231.1 730.1 232.5 730.8 234.4C731.5 236.3 731.8 240.4 732 241.6"/>
<path class="k" d="M717.6 232.4 724.4 230.4 727.6 230.4"/>
<path class="k" d="M720.4 244.4 728.4 241.6"/>
<path class="k" d="M730 250 730 270 726 286"/>
<path class="k" d="M742 250 742 270 738 288"/>
<path class="k2" d="M743 270 750 269"/>
<path class="k2" d="M732 268 731 276"/>
<path class="k" d="M647 280C647.3 282.7 648.6 291 649 296C649.4 301 650.1 306 649.6 310C649.1 314 647.6 317.2 646 320C644.4 322.8 641 325.8 640 327"/>
<path class="k" d="M640 327 600 348"/>
<path class="k2" d="M694.5 299.4C693 303.5 689.5 305.9 686.7 304.9C683.9 303.9 682.9 299.8 684.3 295.8C685.8 291.7 689.3 289.3 692.1 290.3C694.9 291.3 695.9 295.4 694.5 299.4Z"/>
<path class="k" d="M660 280 682 290"/>
<path class="k" d="M682 288 672.4 308 679 312 685 302"/>
<path class="k" d="M675 311 663.6 333"/>
<path class="k" d="M706.8 294C706.7 295.1 706.2 297.7 706.4 300.4C706.6 303.1 707.4 307.1 708 310C708.6 312.9 709.3 315.8 710 318C710.7 320.2 711.7 322.3 712 323.2"/>
<path class="k" d="M712 323.2 722 329.2 728.4 330"/>
<path class="k" d="M706.8 294C707.6 293.3 709.7 291 711.6 289.6C713.5 288.2 715.7 286.5 718 285.6C720.3 284.7 724 284.6 725.2 284.4"/>
<path class="k" d="M725.2 284.4 730 270"/>
<path class="k" d="M736.4 286 741.2 270"/>
<path class="k" d="M736.4 286 742 288.4"/>
<path class="k" d="M718 285.6C719.2 286.3 722.9 288.7 725.2 289.6C727.5 290.5 729.8 291 731.6 291.2C733.4 291.4 734.3 291.3 736 290.8C737.7 290.3 741 288.8 742 288.4"/>
<path class="k" d="M725.2 284.4 732.4 290"/>
<path class="k2" d="M730 288.8 733.2 290.8"/>
<path class="k2" d="M736.4 289.6 739.6 289.6"/>
<path class="k2" d="M742 288.4 742.4 315.6"/>
<path class="k" d="M742.4 315.6 734.8 317.2"/>
<path class="k" d="M734.8 317.2C734.4 317.7 732.6 319.1 732.4 320C732.2 320.9 733.1 322.8 733.6 322.8C734.1 322.8 735.3 320.5 735.6 320"/>
<path class="k" d="M735.6 319.6 750 327.2"/>
<path class="k" d="M736 318 736.4 326 728.4 330"/>
<path class="k" d="M717.6 307.2C717.9 309 718.7 315 719.2 318C719.7 321 720.3 323.3 720.8 325.2C721.3 327.1 721.8 328.5 722 329.2"/>
<path class="k2" d="M719.6 317.2 720 322.8"/>
<path class="k2" d="M709.6 316.4 710.4 319.6"/>
<path class="k" d="M709.2 295.2 711.6 296.4"/>
<path class="k" d="M714.8 296.4C715.3 295.9 716.8 294 718 293.6C719.2 293.2 720.8 293.4 722 294C723.2 294.6 724.6 295.9 725.2 297.2C725.8 298.5 725.9 300.7 725.6 302C725.3 303.3 724.5 304.3 723.2 305.2C721.9 306.1 718.5 306.9 717.6 307.2"/>
<path class="k" d="M716.4 294.8C716 295.3 714.5 296.5 714 297.6C713.5 298.7 713.3 300.4 713.6 301.6C713.9 302.8 714.9 304.4 715.6 305C716.3 305.7 717.3 305.5 717.6 305.6"/>
<path class="k" d="M719.4 299.3C718.9 300.8 717.6 301.7 716.6 301.3C715.6 301 715.3 299.5 715.8 298C716.3 296.5 717.6 295.6 718.6 295.9C719.6 296.3 719.9 297.8 719.4 299.3Z"/>
<circle cx="720.0" cy="300.8" r="0.6"/>
<circle cx="711.6" cy="289.6" r="0.5"/>
<circle cx="720.0" cy="285.8" r="0.6"/>
<path class="k" d="M750 348 737.6 373.6"/>
<path class="k" d="M214 311.6 242 372"/>
<path class="k" d="M240.6 393.1C244 401.5 242.5 410.1 237.1 412.2C231.8 414.4 224.8 409.3 221.4 400.9C218 392.5 219.5 383.9 224.9 381.8C230.2 379.6 237.2 384.7 240.6 393.1Z"/>
<path class="k" d="M227 385C227.5 387.2 228 394.3 230 398C232 401.7 237.5 405.5 239 407"/>
<path class="k" d="M230 379C231.7 379.3 237 378.8 240 381C243 383.2 246.3 388.3 248 392C249.7 395.7 250.5 400.3 250 403C249.5 405.7 245.8 407.2 245 408"/>
<path class="k" d="M240 372.4C241.7 373 247 373.4 250 376C253 378.6 256.5 384.3 258 388C259.5 391.7 259.3 395.3 259 398C258.7 400.7 256.5 403 256 404"/>
<path class="k" d="M248 368.4C249.7 368.7 255 368.1 258 370C261 371.9 264.3 376.7 266 380C267.7 383.3 268.3 387.2 268 390C267.7 392.8 264.7 395.8 264 397"/>
<path class="k" d="M256 363C257.5 363.1 262.2 362.1 265 363.6C267.8 365.1 271 368.6 273 372C275 375.4 277 380.7 277 384C277 387.3 273.7 390.7 273 392"/>
<path class="k" d="M274 372 280 368"/>
<path class="k" d="M293 263 321 319.6"/>
<path class="k" d="M165 337 192 392"/>
<path class="k" d="M116 364 137 402"/>
<path class="k" d="M67 396.4 93 450"/>
<path class="k" d="M25 422 46 463"/>
<path class="k" d="M87.7 458.7C88 457.3 88.7 455.2 89.6 454C90.5 452.8 91.9 451.8 93.3 451.4C94.7 451 96.3 451.2 98 451.7C99.7 452.1 101.7 452.9 103.6 454C105.5 455.1 107.6 456.6 109.2 458.2C110.8 459.8 111.8 461.2 112.9 463.3C114.1 465.4 115.4 468.5 116.2 470.8C117 473.1 117.6 475.2 117.8 477.3C118 479.5 118 482 117.6 483.9C117.2 485.7 116.4 487.3 115.3 488.5C114.2 489.7 112.5 490.7 111.1 491.1C109.6 491.6 108.1 491.7 106.4 491.1C104.7 490.6 102.7 489.1 100.8 487.6C98.9 486.1 96.8 484 95.2 482C93.6 480 92.1 477.8 91 475.5C89.9 473.1 89.2 470.2 88.7 468C88.1 465.8 87.9 464 87.7 462.4C87.6 460.8 87.4 460.1 87.7 458.7Z"/>
<path class="k2" d="M87.1 459.1 87.4 465.2"/>
<path class="k2" d="M93.3 451.2C93.9 451.2 95.5 451.2 96.6 451.4C97.7 451.6 99.3 452.2 99.9 452.3"/>
<path class="k2" d="M116.7 472.7C116.9 473.4 117.6 475.5 117.8 477.3C117.9 479.2 117.6 482.8 117.6 483.9"/>
<path class="k2" d="M104.5 490.4C104.8 490.5 105.3 491 106.4 491.1C107.5 491.3 109.8 491.4 111.1 491.1C112.3 490.9 113.4 490.1 113.9 489.9"/>
<path class="k2" d="M88.7 468C88.9 468.7 89.4 471 89.8 472.2C90.2 473.4 90.8 474.9 91 475.5"/>
<path class="k2" d="M107.3 456.8C107.6 457 108.5 457.5 109.2 458.2C109.9 458.9 111.1 460.8 111.5 461.3"/>
<path class="k" d="M187.3 400.2C187.5 398.3 187.8 397.2 188.7 396C189.5 394.8 190.8 393.3 192.4 392.7C194 392.2 195.8 392 198 392.5C200.2 393.1 203.3 394.4 205.5 396C207.6 397.6 209.4 400 211.1 402.1C212.8 404.2 214.5 406.4 215.7 408.6C217 410.8 217.9 413 218.5 415.1C219.2 417.3 219.7 419.5 219.7 421.7C219.8 423.8 219.7 426.4 219 428.2C218.3 430 217.2 431.4 215.7 432.4C214.3 433.4 212.2 434.3 210.1 434.3C208.1 434.3 205.6 433.6 203.6 432.4C201.6 431.2 199.9 429.2 198 427.3C196.1 425.3 193.9 422.9 192.4 420.7C190.9 418.6 189.9 416.4 189.1 414.2C188.3 412 187.9 410 187.5 407.7C187.2 405.3 187.1 402.1 187.3 400.2Z"/>
<path class="k2" d="M187.5 407.7C187.5 406.4 187.1 402.1 187.3 400.2C187.5 398.3 188.4 396.7 188.7 396"/>
<path class="k2" d="M192.4 392.7C193.3 392.7 196.3 392.3 198 392.5C199.7 392.8 201.9 394.1 202.7 394.4"/>
<path class="k2" d="M215.7 408.6C216.2 409.7 217.9 413 218.5 415.1C219.2 417.3 219.7 419.5 219.7 421.7C219.8 423.8 219.1 427.1 219 428.2"/>
<path class="k2" d="M216.7 431.9C215.6 432.3 212.3 434.2 210.1 434.3C208 434.3 204.7 432.7 203.6 432.4"/>
<path class="k2" d="M189.1 414.2C189.7 415.3 191.4 419.1 192.4 420.7C193.4 422.4 194.7 423.5 195.2 424"/>
<path class="k" d="M121.3 421.6C121.5 421.1 121.8 419.4 122.3 418.5C122.9 417.6 123.6 416.9 124.5 416.3C125.4 415.7 127.1 415.1 127.7 414.8"/>
<path class="k" d="M127.7 414.8 158 438.7"/>
<path class="k" d="M158 438.7C158.4 439.1 159.5 439.8 159.9 440.6C160.4 441.5 160.5 443.3 160.6 443.8"/>
<path class="k" d="M160.6 443.8 160.6 476.1"/>
<path class="k" d="M160.6 476.1C160.3 476.5 159.9 478.1 158.7 478.6C157.4 479.1 153.9 479.1 153 479.2"/>
<path class="k" d="M153 479.2 124.5 462.2"/>
<path class="k" d="M124.5 462.2C124.1 461.8 122.5 461 122 460.3C121.4 459.5 121.4 458.1 121.3 457.7"/>
<path class="k" d="M121.3 457.7 121.3 421.6"/>
<path class="k" d="M123.2 422.3 123.2 457.1 126.4 460.9"/>
<path class="k" d="M125.1 419.7 155.5 437.5 158.7 441.9 158.7 477.3"/>
<path class="k" d="M124.5 443.2C124.3 440.4 124.1 437.6 124.5 435.6C124.9 433.6 125.9 432.1 127 431.1C128.2 430.2 128 428.5 131.5 429.9C134.9 431.2 144.1 436.7 147.9 439.4C151.7 442 153 443.8 154.2 445.7C155.5 447.6 155.3 447.8 155.5 450.8C155.7 453.7 155.9 460.7 155.5 463.4C155.1 466.2 154 466.5 153 467.2C151.9 468 152.8 469.2 149.2 467.8C145.6 466.5 135.4 461.6 131.5 459C127.6 456.4 126.9 454.7 125.8 452C124.6 449.4 124.7 445.9 124.5 443.2Z"/>
<path class="k" d="M126.4 443.2C126.2 440.8 126.1 438.5 126.4 436.8C126.7 435.2 127.3 434 128.3 433.3C129.2 432.6 129 431.2 132.1 432.4C135.1 433.6 143.3 438.2 146.6 440.6C150 443.1 151.2 444.9 152.3 447C153.5 449.1 153.5 450.5 153.6 453.3C153.7 456 153.6 461.3 153 463.4C152.3 465.5 153.2 467 149.8 465.9C146.4 464.9 136.4 459.6 132.7 457.1C129 454.6 128.7 453.1 127.7 450.8C126.6 448.4 126.6 445.5 126.4 443.2Z"/>
<path class="k" d="M126.9 424.5C127.1 425.5 126.8 426.4 126.2 426.5C125.6 426.7 124.9 426.1 124.7 425.1C124.4 424.2 124.7 423.3 125.3 423.1C125.9 422.9 126.6 423.6 126.9 424.5Z"/>
<path class="k" d="M155.6 441C155.8 441.9 155.6 442.8 155 443C154.3 443.1 153.6 442.5 153.4 441.6C153.1 440.6 153.4 439.7 154 439.6C154.6 439.4 155.3 440 155.6 441Z"/>
<path class="k" d="M126.9 456.8C127.1 457.7 126.8 458.6 126.2 458.8C125.6 459 124.9 458.3 124.7 457.4C124.4 456.4 124.7 455.5 125.3 455.4C125.9 455.2 126.6 455.8 126.9 456.8Z"/>
<path class="k" d="M155.6 473.9C155.8 474.8 155.6 475.7 155 475.9C154.3 476.1 153.6 475.4 153.4 474.5C153.1 473.5 153.4 472.6 154 472.5C154.6 472.3 155.3 472.9 155.6 473.9Z"/>
<path class="k2" d="M129.6 429.9 135.9 429.9"/>
<path class="k2" d="M151.7 445.7 152.3 452"/>
<path class="k2" d="M128.3 454.6 134 459.4"/>
<path class="k" d="M129.6 412.2C129.9 411.4 130.2 409.4 131.5 407.7C132.7 406 134.6 403.5 137.2 402C139.7 400.6 144.2 399.4 146.6 399.1C149.1 398.8 148.3 399.2 151.7 400.4C155.1 401.6 163.4 404.4 166.9 406.5C170.4 408.5 171.1 411 172.6 412.8C174.1 414.6 175.2 416.5 175.8 417.2"/>
<path class="k" d="M129.6 412.2C130.9 413.2 134.7 416.6 137.8 418.5C140.8 420.4 144.7 422.2 147.9 423.5C151.1 424.9 154.2 426.5 156.8 426.7C159.3 426.9 160.8 425.8 163.1 424.8C165.4 423.9 168.6 422.3 170.7 421C172.8 419.7 174.7 417.8 175.5 417.2"/>
<path class="k" d="M127.7 414.8 129.6 412.2"/>
<circle cx="129.9" cy="411.8" r="0.6"/>
<circle cx="139.1" cy="418.9" r="0.5"/>
<path class="k" d="M142.2 413.4C142.3 411.6 145.7 408.9 147.3 407.7C148.9 406.5 149.7 406 151.7 406.2C153.7 406.4 157.1 407.8 159.3 409C161.5 410.2 164.3 412.2 165 413.4C165.7 414.7 164.7 415.5 163.7 416.6C162.8 417.6 161.1 419.1 159.3 419.7C157.5 420.4 155.1 420.6 153 420.4C150.9 420.2 148.4 419.6 146.6 418.5C144.9 417.3 142.1 415.2 142.2 413.4Z"/>
<path class="k" d="M149.7 403.6C149.6 404.1 148.8 404.4 148 404.3C147.2 404.1 146.6 403.6 146.7 403C146.8 402.5 147.5 402.1 148.3 402.3C149.2 402.4 149.8 403 149.7 403.6Z"/>
<path class="k" d="M137.4 410.5C137.3 411.1 136.5 411.4 135.7 411.3C134.9 411.1 134.3 410.5 134.4 410C134.5 409.4 135.2 409.1 136.1 409.3C136.9 409.4 137.5 410 137.4 410.5Z"/>
<path class="k" d="M171.6 416.2C171.5 416.8 170.7 417.1 169.9 416.9C169.1 416.8 168.5 416.2 168.6 415.7C168.7 415.1 169.4 414.8 170.2 415C171.1 415.1 171.7 415.7 171.6 416.2Z"/>
<path class="k" d="M159.9 423.8C159.8 424.4 159.1 424.7 158.2 424.5C157.4 424.4 156.8 423.8 156.9 423.3C157 422.7 157.8 422.4 158.6 422.5C159.4 422.7 160 423.3 159.9 423.8Z"/>
<path class="k" d="M161.2 432.4 172 427.3 175.8 426.7"/>
<path class="k" d="M175.8 426.7C176.2 427.3 177.8 428.2 178.3 430.5C178.8 432.8 178.9 436.8 178.9 440.6C178.9 444.4 178.4 451.2 178.3 453.3"/>
<path class="k" d="M161.2 434.3C161.7 435.4 163.7 438.7 164.4 440.6C165 442.5 164.9 442.3 165 445.7C165.1 449.1 165 458.4 165 460.9"/>
<path class="k" d="M175.8 417.2C176.6 417.5 179 418.1 180.8 419.1C182.6 420.2 185.4 422.1 186.5 423.5C187.7 425 187.6 427.2 187.8 428"/>
<path class="k" d="M187.8 428 187.8 458.4"/>
<path class="k" d="M187.8 458.4C187.5 459.2 187 462 185.9 463.4C184.7 464.8 182.5 466.2 180.8 466.6C179.1 467 176.6 466.1 175.8 465.9"/>
<path class="k" d="M180.8 420.4 181.5 428 181.5 460.9 178.3 464.7"/>
<path class="k" d="M165.6 460.3C166.7 459.5 170.3 456.1 172 455.8C173.6 455.5 174.8 457.4 175.8 458.4C176.7 459.3 177.4 460.5 177.7 461.5C177.9 462.6 177.1 464.2 177 464.7"/>
<path class="k" d="M167.5 465.9 177 462.8"/>
<path class="k" d="M165.6 460.3 168.2 464.1"/>
<path class="k" d="M178 428.6C178 429.6 177.6 430.4 177 430.4C176.5 430.4 176 429.6 176 428.6C176 427.6 176.5 426.8 177 426.8C177.6 426.8 178 427.6 178 428.6Z"/>
<path class="k" d="M177.7 460.9C177.7 461.8 177.2 462.5 176.6 462.5C176.1 462.5 175.6 461.8 175.6 460.9C175.6 460 176.1 459.2 176.6 459.2C177.2 459.2 177.7 460 177.7 460.9Z"/>
<circle cx="172.6" cy="429.2" r="0.6"/>
<circle cx="162.1" cy="434.6" r="0.5"/>
<path class="k" d="M175.8 465.9 166.9 466.6"/>
<path class="k" d="M166 466 201 487 190 493"/>
<path class="k" d="M188.4 492.8C189.4 495.5 188.6 498.2 186.8 498.9C184.9 499.6 182.6 497.9 181.6 495.2C180.6 492.5 181.4 489.8 183.2 489.1C185.1 488.4 187.4 490.1 188.4 492.8Z"/>
<path class="k" d="M188.1 493.8C188.6 495.1 188.2 496.5 187.3 496.8C186.4 497.2 185.2 496.4 184.7 495C184.2 493.7 184.6 492.3 185.5 492C186.4 491.6 187.6 492.4 188.1 493.8Z"/>
<path class="k" d="M43.9 467.1C44.2 466.6 45 465 46 464.4C47 463.8 48.3 463.3 49.7 463.3C51.2 463.3 52.5 463.6 54.5 464.4C56.6 465.2 59.3 466.8 62 468.1C64.7 469.5 67.9 471.1 70.5 472.4C73.2 473.7 76.1 475 78 476.1C79.9 477.3 80.8 478 81.7 479.3C82.7 480.7 83.3 482.3 83.9 484.1C84.4 486 84.8 489.5 84.9 490.5"/>
<path class="k" d="M84.9 490.5 84.9 518.3"/>
<path class="k" d="M84.9 518.3C84.6 518.8 83.8 520.6 82.8 521.5C81.8 522.4 80.4 523.3 79.1 523.6C77.7 523.9 75.5 523.2 74.8 523.1"/>
<path class="k" d="M74.8 523.1 62 516.1 48.1 508.1"/>
<path class="k" d="M48.1 508.1C47.6 507.6 45.6 505.9 44.9 504.9C44.2 504 44 502.7 43.9 502.3"/>
<path class="k2" d="M43.9 467.1 43.9 502.3"/>
<path class="k" d="M46 466C46.4 465.8 46 463.9 48.7 464.9C51.3 466 57.3 469.8 62 472.4C66.7 475 74 478.6 76.9 480.4C79.9 482.2 78.9 481.7 79.6 483.1C80.3 484.4 80.9 487.5 81.2 488.4"/>
<path class="k" d="M81.2 488.4 81.7 519.3 80.1 522.5"/>
<path class="k" d="M49.2 486.3C49.4 484.3 49.7 483 50.8 482C51.9 481 53.9 480.4 55.6 480.4C57.3 480.4 59.7 481.3 60.9 482C62.2 482.7 62 483.9 63.1 484.7C64.1 485.5 66.1 485.5 67.3 486.8C68.6 488.1 69.6 490.3 70.5 492.7C71.4 495.1 72.6 498.6 72.7 501.2C72.8 503.8 72 506.4 71.1 508.1C70.2 509.8 68.8 510.9 67.3 511.3C65.8 511.8 63.8 511.5 62 510.8C60.2 510.1 58.3 508.7 56.7 507.1C55.1 505.5 53.6 503.4 52.4 501.2C51.2 499 50.3 496.2 49.7 493.7C49.2 491.2 49 488.2 49.2 486.3Z"/>
<path class="k" d="M50.2 470.4C50.6 471.4 50.3 472.4 49.6 472.6C49 472.8 48.1 472.2 47.8 471.2C47.4 470.2 47.7 469.2 48.3 469C49 468.8 49.8 469.4 50.2 470.4Z"/>
<path class="k" d="M77.1 486.9C77.4 487.9 77.2 488.9 76.5 489.1C75.9 489.4 75 488.8 74.7 487.8C74.3 486.8 74.5 485.8 75.2 485.5C75.9 485.3 76.7 485.9 77.1 486.9Z"/>
<path class="k" d="M49.5 502.4C49.9 503.4 49.7 504.4 49 504.6C48.3 504.8 47.5 504.2 47.1 503.2C46.8 502.2 47 501.2 47.7 501C48.4 500.8 49.2 501.4 49.5 502.4Z"/>
<path class="k" d="M77.3 518.9C77.6 519.9 77.4 520.9 76.7 521.1C76.1 521.4 75.2 520.8 74.9 519.8C74.5 518.8 74.8 517.8 75.4 517.5C76.1 517.3 76.9 517.9 77.3 518.9Z"/>
<circle cx="62.0" cy="472.6" r="0.6"/>
<circle cx="55.1" cy="504.6" r="0.7"/>
<path class="k" d="M65.4 525.6C66.4 528.5 65.6 531.5 63.5 532.3C61.4 533 58.9 531.3 57.8 528.4C56.8 525.5 57.6 522.5 59.7 521.7C61.8 521 64.3 522.7 65.4 525.6Z"/>
<path class="k" d="M64.5 526.7C65 528.2 64.6 529.7 63.6 530C62.5 530.4 61.2 529.5 60.7 528.1C60.2 526.6 60.6 525.1 61.6 524.8C62.7 524.4 64 525.3 64.5 526.7Z"/>
<path class="k2" d="M65 526 65.6 531"/>
<path class="k" d="M24 543C24.2 542 24.7 541.3 25.6 540.6C26.5 539.9 28.3 538.9 29.6 538.6C30.9 538.3 32.5 538.3 33.6 538.6C34.7 538.9 35.3 539.7 36 540.6C36.7 541.5 37.5 543.1 38 544.2C38.5 545.3 39.1 546.3 38.8 547.4C38.5 548.5 37.4 549.7 36.4 550.6C35.4 551.5 33.9 552.3 32.8 552.6C31.7 552.9 30.6 552.9 29.6 552.6C28.6 552.3 27.7 551.6 26.8 550.6C25.9 549.6 24.9 547.9 24.4 546.6C23.9 545.3 23.8 544 24 543Z"/>
<path class="k" d="M29.6 539C30 539.9 31.3 542.5 32 544.2C32.7 545.9 33.4 547.7 33.6 549C33.8 550.3 33.3 551.7 33.2 552.2"/>
<path class="k" d="M31.2 542.2 34.8 541"/>
<path class="k" d="M33.6 549 37.2 546.6"/>
<path class="k2" d="M37.6 543.8 38.2 548.2"/>
<path class="k" d="M36 538.6C36.6 538.3 38.1 537.5 39.6 536.6C41.1 535.7 43.2 534.3 44.8 533.4C46.4 532.5 47.9 531.5 49.2 531C50.5 530.5 51.9 530.5 52.4 530.4"/>
<path class="k" d="M39.6 543.4C40.5 542.9 43.4 541.5 45.2 540.6C47 539.7 49.1 538.8 50.4 538.2C51.7 537.6 52.7 537.2 53.2 537"/>
<path class="k" d="M54 533.1C54.6 534.9 54.3 536.7 53.2 537.1C52.1 537.5 50.7 536.3 50 534.5C49.4 532.7 49.7 530.9 50.8 530.5C51.9 530.1 53.3 531.3 54 533.1Z"/>
<path class="k" d="M44.8 533.4C45.1 533.9 46.3 535.5 46.4 536.6C46.5 537.7 45.7 539.6 45.6 540.2"/>
<path class="k" d="M48.4 531.8C48.7 532.3 50.1 533.9 50.4 535C50.7 536.1 50.1 537.7 50 538.2"/>
<path class="k" d="M41.2 536.2C41.5 536.7 43 538.4 43.2 539.4C43.4 540.4 42.5 541.7 42.4 542.2"/>
<path class="k" d="M64 534 79.6 562.4"/>
<path class="k" d="M42 548 50 585"/>
<path class="k" d="M149 511.5C149.2 510.5 149.7 509.8 150.6 509.1C151.5 508.4 153.3 507.4 154.6 507.1C155.9 506.8 157.5 506.8 158.6 507.1C159.7 507.4 160.3 508.2 161 509.1C161.7 510 162.5 511.6 163 512.7C163.5 513.8 164.1 514.8 163.8 515.9C163.5 517 162.4 518.2 161.4 519.1C160.4 520 158.9 520.8 157.8 521.1C156.7 521.4 155.6 521.4 154.6 521.1C153.6 520.8 152.7 520.1 151.8 519.1C150.9 518.1 149.9 516.4 149.4 515.1C148.9 513.8 148.8 512.5 149 511.5Z"/>
<path class="k" d="M154.6 507.5C155 508.4 156.3 511 157 512.7C157.7 514.4 158.4 516.2 158.6 517.5C158.8 518.8 158.3 520.2 158.2 520.7"/>
<path class="k" d="M156.2 510.7 159.8 509.5"/>
<path class="k" d="M158.6 517.5 162.2 515.1"/>
<path class="k2" d="M162.6 512.3 163.2 516.7"/>
<path class="k" d="M161 507.1C161.6 506.8 163.1 506 164.6 505.1C166.1 504.2 168.2 502.8 169.8 501.9C171.4 501 172.9 500 174.2 499.5C175.5 499 176.9 499 177.4 498.9"/>
<path class="k" d="M164.6 511.9C165.5 511.4 168.4 510 170.2 509.1C172 508.2 174.1 507.3 175.4 506.7C176.7 506.1 177.7 505.7 178.2 505.5"/>
<path class="k" d="M179 501.6C179.6 503.4 179.3 505.2 178.2 505.6C177.1 506 175.7 504.8 175 503C174.4 501.2 174.7 499.4 175.8 499C176.9 498.6 178.3 499.8 179 501.6Z"/>
<path class="k" d="M169.8 501.9C170.1 502.4 171.3 504 171.4 505.1C171.5 506.2 170.7 508.1 170.6 508.7"/>
<path class="k" d="M173.4 500.3C173.7 500.8 175.1 502.4 175.4 503.5C175.7 504.6 175.1 506.2 175 506.7"/>
<path class="k" d="M166.2 504.7C166.5 505.2 168 506.9 168.2 507.9C168.4 508.9 167.5 510.2 167.4 510.7"/>
<path class="k" d="M189 501 212 536 213.6 540"/>
<path class="k" d="M169.6 510 181.6 562.6"/>
<path class="k" d="M359 557.6C360.8 556.3 363.2 555.7 365 556.4C366.8 557.1 367.8 559.4 370 562C372.2 564.6 375.3 569.3 378 572C380.7 574.7 384.3 575.3 386 578C387.7 580.7 386.7 584 388 588C389.3 592 393.2 598.8 394 602C394.8 605.2 394.7 605.5 393 607C391.3 608.5 386.8 609.8 384 611C381.2 612.2 378.7 614.2 376 614.4C373.3 614.6 371.3 613.7 368 612C364.7 610.3 359.2 606.2 356 604C352.8 601.8 350.3 601.7 349 599C347.7 596.3 347.9 592.2 348 588C348.1 583.8 348.6 578 349.6 574C350.6 570 352.4 566.7 354 564C355.6 561.3 357.2 558.9 359 557.6Z"/>
<path class="k" d="M360 559C361.5 560 366.3 562.5 369 565C371.7 567.5 373.7 571.5 376 574C378.3 576.5 381.3 577.3 383 580C384.7 582.7 384.7 586.3 386 590C387.3 593.7 390.3 599.1 391 602C391.7 604.9 390.2 606.7 390 607.6"/>
<path class="k" d="M363.3 564.5C363.7 565.6 363.4 566.6 362.7 566.9C362 567.1 361.1 566.5 360.7 565.5C360.3 564.4 360.6 563.4 361.3 563.1C362 562.9 362.9 563.5 363.3 564.5Z"/>
<path class="k" d="M354.9 595.1C355.3 596.2 355 597.2 354.3 597.5C353.6 597.7 352.7 597.1 352.3 596.1C351.9 595 352.2 594 352.9 593.7C353.6 593.5 354.5 594.1 354.9 595.1Z"/>
<path class="k" d="M386.7 603.9C387.1 605 386.8 606 386.1 606.3C385.4 606.5 384.5 605.9 384.1 604.9C383.7 603.8 384 602.8 384.7 602.5C385.4 602.3 386.3 602.9 386.7 603.9Z"/>
<path class="k" d="M412.1 564.1C416.5 573.4 415.3 583.1 409.5 585.9C403.7 588.6 395.4 583.2 391.1 573.9C386.7 564.6 387.9 554.9 393.7 552.1C399.5 549.4 407.8 554.8 412.1 564.1Z"/>
<path class="k2" d="M396.4 581.7C396.1 581.3 395.1 580.3 394.5 579.5C394 578.8 393.4 578 392.9 577.1C392.3 576.3 391.8 575.4 391.4 574.5C390.9 573.6 390.5 572.7 390.2 571.8C389.8 570.8 389.5 569.9 389.3 568.9C389 568 388.9 567 388.7 566.1C388.6 565.2 388.5 563.8 388.5 563.3"/>
<path class="k2" d="M414.4 578.8C414.3 579.1 414 580.3 413.7 581C413.5 581.7 413.1 582.3 412.8 582.9C412.4 583.5 412 584 411.5 584.4C411 584.9 410.5 585.3 410 585.6C409.4 585.9 408.8 586.1 408.2 586.3C407.6 586.5 407 586.5 406.3 586.6C405.7 586.6 404.6 586.4 404.3 586.3"/>
<path class="k2" d="M408.8 558.6C409.1 559 409.9 560.1 410.4 560.9C410.9 561.7 411.3 562.5 411.8 563.4C412.2 564.2 412.6 565.1 412.9 566C413.2 566.8 413.6 568.2 413.8 568.6"/>
<path class="k2" d="M395.7 551.5C395.9 551.5 396.6 551.4 397.1 551.4C397.6 551.5 398.1 551.5 398.5 551.6C399 551.7 399.8 551.9 400 551.9"/>
<path class="k" d="M333.2 599.2 338 599.2 339 600.6"/>
<path class="k" d="M332 602.4C332.1 602.9 332.3 604.3 332.8 605.2C333.3 606.1 334.2 606.9 335.2 608C336.2 609.1 337.8 611.3 338.8 611.6C339.8 611.9 340.6 610.7 341.2 610C341.8 609.3 342.4 608.3 342.4 607.2C342.4 606.1 341.8 604.5 341.2 603.6C340.6 602.7 339.2 601.9 338.8 601.6"/>
<path class="k" d="M335.6 604 339.2 602 341.6 606.4 338 608.8Z"/>
<path class="k2" d="M333.6 606 334.4 607.2"/>
<path class="k2" d="M338.4 611.2 339.4 611.6"/>
<path class="k" d="M299.2 620.8C299.4 619.8 299.9 619.1 300.8 618.4C301.7 617.7 303.5 616.7 304.8 616.4C306.1 616.1 307.7 616.1 308.8 616.4C309.9 616.7 310.5 617.5 311.2 618.4C311.9 619.3 312.7 620.9 313.2 622C313.7 623.1 314.3 624.1 314 625.2C313.7 626.3 312.6 627.5 311.6 628.4C310.6 629.3 309.1 630.1 308 630.4C306.9 630.7 305.8 630.7 304.8 630.4C303.8 630.1 302.9 629.4 302 628.4C301.1 627.4 300.1 625.7 299.6 624.4C299.1 623.1 299 621.8 299.2 620.8Z"/>
<path class="k" d="M304.8 616.8C305.2 617.7 306.5 620.3 307.2 622C307.9 623.7 308.6 625.5 308.8 626.8C309 628.1 308.5 629.5 308.4 630"/>
<path class="k" d="M306.4 620 310 618.8"/>
<path class="k" d="M308.8 626.8 312.4 624.4"/>
<path class="k2" d="M312.8 621.6 313.4 626"/>
<path class="k" d="M311.2 616.4C311.8 616.1 313.3 615.3 314.8 614.4C316.3 613.5 318.4 612.1 320 611.2C321.6 610.3 323.1 609.3 324.4 608.8C325.7 608.3 327.1 608.3 327.6 608.2"/>
<path class="k" d="M314.8 621.2C315.7 620.7 318.6 619.3 320.4 618.4C322.2 617.5 324.3 616.6 325.6 616C326.9 615.4 327.9 615 328.4 614.8"/>
<path class="k" d="M329.2 610.9C329.8 612.7 329.5 614.5 328.4 614.9C327.3 615.3 325.9 614.1 325.2 612.3C324.6 610.5 324.9 608.7 326 608.3C327.1 607.9 328.5 609.1 329.2 610.9Z"/>
<path class="k" d="M320 611.2C320.3 611.7 321.5 613.3 321.6 614.4C321.7 615.5 320.9 617.4 320.8 618"/>
<path class="k" d="M323.6 609.6C323.9 610.1 325.3 611.7 325.6 612.8C325.9 613.9 325.3 615.5 325.2 616"/>
<path class="k" d="M316.4 614C316.7 614.5 318.2 616.2 318.4 617.2C318.6 618.2 317.7 619.5 317.6 620"/>
<path class="k" d="M384 612 403.6 645"/>
<path class="k" d="M340 609 367 667"/>
<path class="k" d="M317 622 331.6 689"/>
<path class="k" d="M415 583 440 621"/>
<path class="k" d="M434.6 550.5C437.7 557.1 436.8 564 432.6 566C428.4 567.9 422.5 564.2 419.4 557.5C416.3 550.9 417.2 544 421.4 542C425.6 540.1 431.5 543.8 434.6 550.5Z"/>
<path class="k" d="M424 544C424.3 545.7 424.5 551 426 554C427.5 557 431.8 560.7 433 562"/>
<path class="k" d="M425 539C426.5 539.2 431.3 538.2 434 540C436.7 541.8 439.5 547 441 550C442.5 553 443.2 555.9 443 558C442.8 560.1 440.5 561.7 440 562.4"/>
<path class="k" d="M433 534.4C434.5 534.7 439.3 533.9 442 536C444.7 538.1 447.7 544 449 547C450.3 550 450.3 552.2 450 554C449.7 555.8 447.5 557.3 447 558"/>
<path class="k" d="M440 530C441.5 530.2 446.3 529.2 449 531C451.7 532.8 454.5 538 456 541C457.5 544 458.2 547 458 549C457.8 551 455.5 552.3 455 553"/>
<path class="k" d="M448 526C449.3 526.2 453.5 525 456 527C458.5 529 461.7 534.8 463 538C464.3 541.2 464.3 544 464 546C463.7 548 461.5 549.3 461 550"/>
<circle cx="449.6" cy="525.6" r="0.8"/>
<circle cx="463.6" cy="540.0" r="0.8"/>
<circle cx="463.6" cy="545.6" r="0.8"/>
<circle cx="447.0" cy="557.6" r="0.8"/>
<path class="k" d="M467 520C467.2 517.7 467.5 513.8 469 512C470.5 510.2 473.5 508.3 476 509C478.5 509.7 481.8 512.8 484 516C486.2 519.2 488.3 524.3 489 528C489.7 531.7 489.2 535.9 488 538C486.8 540.1 484.3 540.9 482 540.4C479.7 539.9 476.3 537.4 474 535C471.7 532.6 469.2 528.5 468 526C466.8 523.5 466.8 522.3 467 520Z"/>
<path class="k" d="M468 528 476 523.6 479 523 480 527 477 529 469 532Z"/>
<path class="k" d="M470.4 527 471 531"/>
<path class="k" d="M482 510 528 483"/>
<path class="k" d="M492 530 533 506"/>
<path class="k" d="M485 513 529 488"/>
<path class="k" d="M487 517 530 492"/>
<path class="k" d="M489 521 531 496"/>
<path class="k" d="M490 524 532 500"/>
<path class="k" d="M491 528 532.4 503"/>
<path class="k" d="M482 510C483 511.2 486.3 513.7 488 517C489.7 520.3 491.3 527.8 492 530"/>
<path class="k" d="M526 484C526.7 483.5 528.7 481.7 530 481C531.3 480.3 532.3 479.3 534 480C535.7 480.7 538.5 482.7 540 485C541.5 487.3 542.7 491.3 543 494C543.3 496.7 542.7 499.5 542 501C541.3 502.5 539.5 502.7 539 503"/>
<path class="k" d="M528 483C528.8 484.5 532 488.3 533 492C534 495.7 533.8 502.8 534 505"/>
<path class="k" d="M532 481C533 482.5 536.8 486.5 538 490C539.2 493.5 538.8 500 539 502"/>
<path class="k2" d="M540 498 541 502"/>
<path class="k" d="M454 555 489 598"/>
<path class="k" d="M510 521 550 561"/>
<path class="k" d="M460.8 200C460.7 201.7 459.6 207 460 210C460.4 213 461.1 215.3 463 218C464.9 220.7 469.9 224.7 471.3 226"/>
<path class="k" d="M464.8 200C464.8 201.3 464.3 205.7 464.5 208C464.7 210.3 465.1 211.9 466 214C466.9 216.1 469.3 219.6 470 220.7"/>
<path class="k" d="M435 397.5 566 471.5"/>
<path class="k" d="M566 474.4 543 487"/>
</g>
<g id="labels" style="opacity:0.999">
<circle cx="284" cy="247.6" r="14" fill="#ff3333"/>
<text class="n" transform="translate(276.9 254.6) scale(0.96 1.0)" style="fill:#fff">7</text>
<text class="n" transform="translate(189.3 300.9) scale(0.96 1.02)">11</text>
<text class="n" transform="translate(149.0 328.7) scale(0.96 1.02)">9</text>
<text class="n" transform="translate(100.6 357.4) scale(0.96 1.02)">8</text>
<text class="n" transform="translate(43.2 384.4) scale(0.96 1.02)">10</text>
<text class="n" transform="translate(0.0 409.6) scale(0.96 1.02)">12</text>
<text class="n" transform="translate(37.6 605.0) scale(0.96 1.02)">14</text>
<text class="n" transform="translate(72.6 584.0) scale(0.96 1.02)">16</text>
<text class="n" transform="translate(170.3 587.3) scale(0.96 1.02)">13</text>
<text class="n" transform="translate(210.9 563.3) scale(0.96 1.02)">15</text>
<text class="n" transform="translate(326.3 711.7) scale(0.96 1.02)">5</text>
<text class="n" transform="translate(365.0 689.0) scale(0.96 1.02)">6</text>
<text class="n" transform="translate(404.7 666.7) scale(0.96 1.02)">3</text>
<text class="n" transform="translate(442.2 645.0) scale(0.96 1.02)">4</text>
<text class="n" transform="translate(490.0 617.3) scale(0.96 1.02)">2</text>
<text class="n" transform="translate(553.6 581.0) scale(0.96 1.02)">1</text>
<text class="n" transform="translate(638.3 353.3) scale(0.96 1.02)">18</text>
<text class="n" transform="translate(710.0 396.7) scale(0.96 1.02)">20</text>
<text class="n" transform="translate(746.5 417.0) scale(0.96 1.02)">1</text>
<rect x="746" y="412" width="4" height="8" fill="#fff"/>
<text x="323" y="148" style="font-family:'DejaVu Sans Light','Liberation Sans',sans-serif;font-weight:200;font-size:33px;stroke:#000;stroke-width:0.5px" transform="translate(323 148) scale(0.64 1) translate(-323 -148)">a</text>
<text class="cj" x="606" y="116.5">第</text>
<text class="pl" transform="translate(625 117) scale(0.8 1)" x="-0.75 10 23 35.5 47.5 59 71.25 81.75 90.6 101.25">F2730-01A0</text>
<text class="cj" x="723" y="116.5">図</text><text class="cj" x="740.5" y="116.5">参照</text>
<text class="pl" transform="translate(607 135.5) scale(0.8 1)" x="-1.1 11.5 22.75 34 47.5 59.6 69.75 81.9 90.5 102 114.5 127 138.75 150.25 162.5 174.25 186 198">See Fig.F2730-01A0</text>
</g>
</svg>
</body></html>
